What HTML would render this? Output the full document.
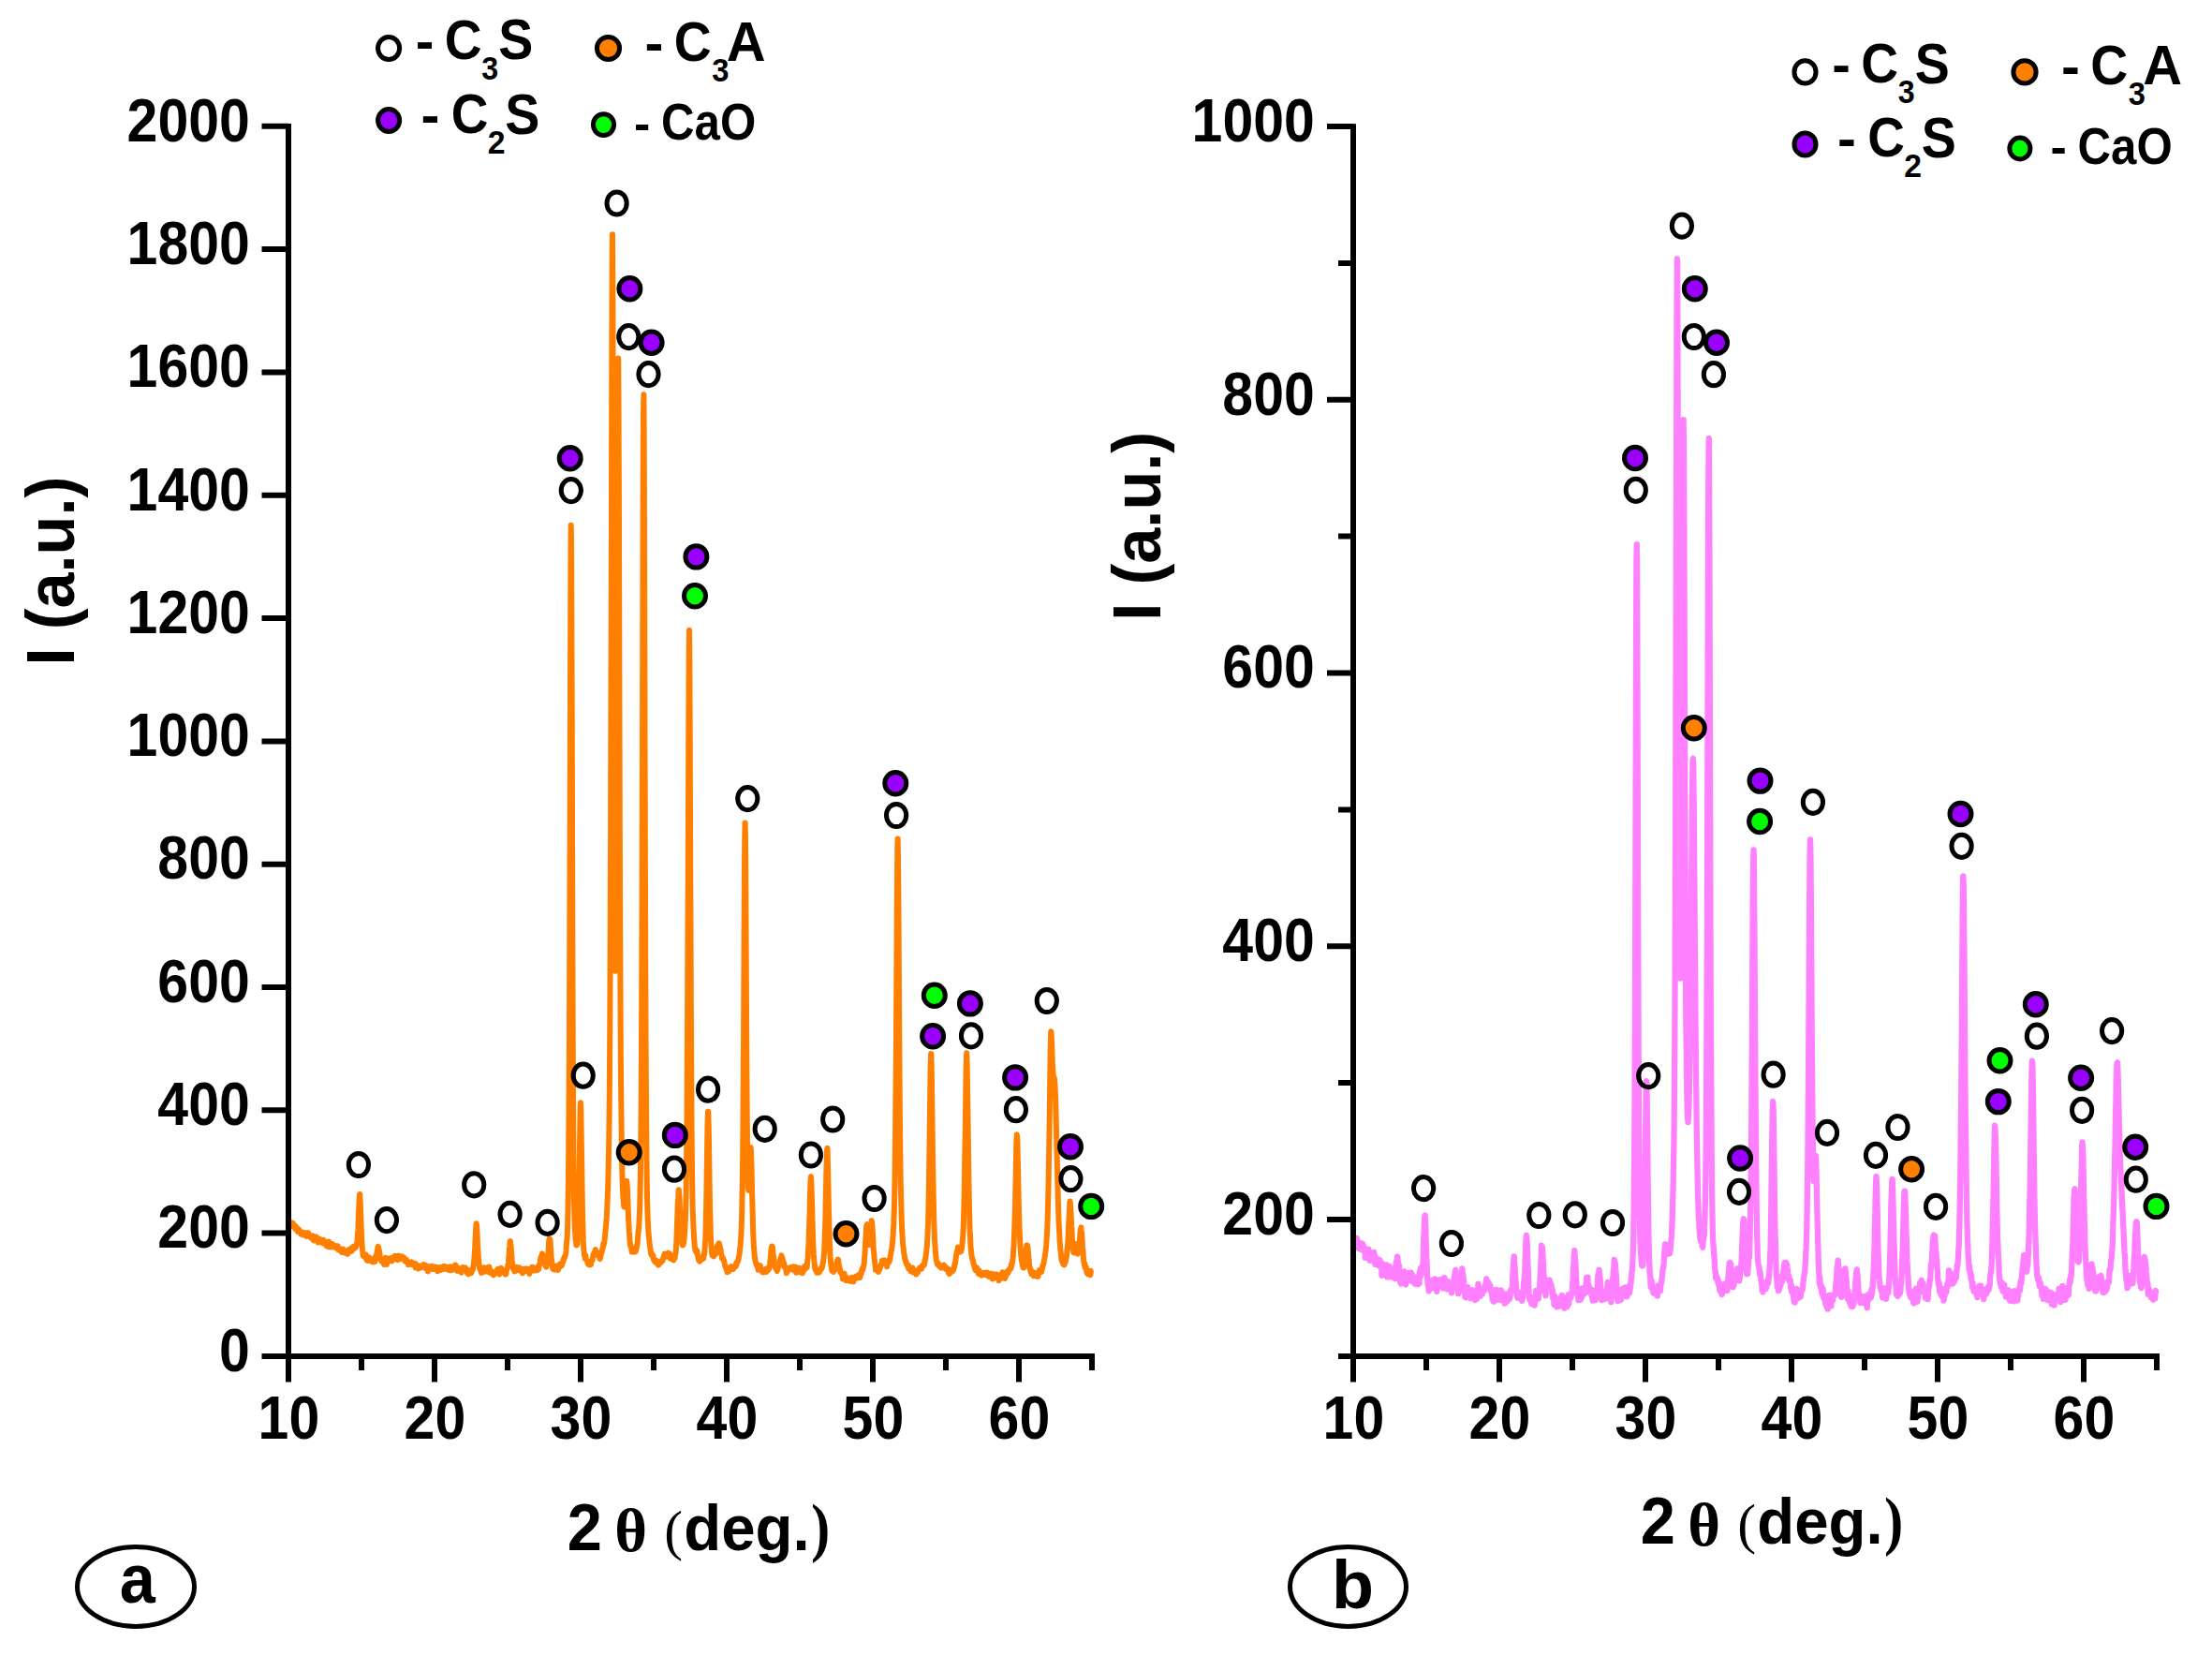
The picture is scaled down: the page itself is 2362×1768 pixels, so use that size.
<!DOCTYPE html>
<html lang="en"><head><meta charset="utf-8"><title>XRD patterns</title>
<style>html,body{margin:0;padding:0;background:#fff}body{width:2362px;height:1768px;overflow:hidden}svg{display:block}text{font-family:"Liberation Sans",sans-serif;font-weight:700;fill:#000}.ser{font-family:"Liberation Serif",serif}</style></head><body>
<svg width="2362" height="1768" viewBox="0 0 2362 1768">
<rect width="2362" height="1768" fill="#fff"/>
<polyline fill="none" stroke="#FF8000" stroke-width="6" stroke-linejoin="round" stroke-linecap="butt" points="307.9,1302.6 308.2,1302.7 308.5,1302.8 308.8,1304.0 309.1,1305.3 309.5,1305.3 309.8,1307.4 310.1,1306.6 310.4,1305.5 310.7,1307.5 311.0,1309.4 311.3,1306.7 311.6,1307.8 312.0,1307.7 312.3,1307.7 312.6,1305.6 312.9,1307.8 313.2,1307.0 313.5,1307.3 313.8,1308.4 314.1,1309.0 314.4,1309.4 314.8,1309.6 315.1,1312.0 315.4,1309.4 315.7,1309.1 316.0,1310.9 316.3,1311.8 316.6,1313.1 316.9,1310.7 317.3,1312.9 317.6,1313.6 317.9,1315.0 318.2,1312.6 318.5,1314.6 318.8,1313.8 319.1,1312.4 319.4,1313.5 319.7,1315.7 320.1,1313.8 320.4,1314.1 320.7,1315.9 321.0,1315.8 321.3,1317.5 321.6,1316.2 321.9,1315.9 322.2,1317.9 322.6,1316.2 322.9,1316.1 323.2,1318.5 323.5,1318.3 323.8,1315.7 324.1,1315.7 324.4,1316.6 324.7,1317.0 325.0,1317.9 325.4,1318.5 325.7,1317.4 326.0,1316.3 326.3,1316.5 326.6,1316.3 326.9,1317.9 327.2,1317.0 327.5,1320.0 327.9,1319.2 328.2,1317.0 328.5,1316.8 328.8,1317.0 329.1,1316.0 329.4,1318.1 329.7,1318.5 330.0,1319.8 330.3,1319.5 330.7,1320.2 331.0,1319.7 331.3,1319.2 331.6,1320.3 331.9,1320.4 332.2,1322.0 332.5,1320.0 332.8,1321.1 333.2,1320.4 333.5,1321.0 333.8,1319.3 334.1,1320.3 334.4,1322.9 334.7,1324.1 335.0,1323.6 335.3,1324.5 335.7,1323.2 336.0,1322.4 336.3,1322.5 336.6,1323.1 336.9,1321.8 337.2,1320.7 337.5,1320.3 337.8,1321.2 338.1,1322.8 338.5,1321.2 338.8,1324.5 339.1,1324.3 339.4,1324.6 339.7,1326.5 340.0,1326.1 340.3,1324.4 340.6,1325.8 341.0,1324.1 341.3,1324.6 341.6,1322.9 341.9,1326.1 342.2,1323.4 342.5,1325.3 342.8,1324.2 343.1,1324.8 343.4,1325.8 343.8,1326.2 344.1,1327.1 344.4,1327.3 344.7,1325.9 345.0,1326.3 345.3,1323.8 345.6,1325.7 345.9,1324.7 346.3,1324.7 346.6,1325.8 346.9,1326.9 347.2,1327.2 347.5,1327.8 347.8,1327.3 348.1,1328.8 348.4,1330.0 348.7,1328.0 349.1,1328.8 349.4,1330.5 349.7,1327.7 350.0,1328.9 350.3,1329.7 350.6,1327.1 350.9,1331.2 351.2,1325.6 351.6,1330.8 351.9,1330.5 352.2,1330.7 352.5,1329.7 352.8,1330.4 353.1,1329.4 353.4,1331.6 353.7,1329.1 354.0,1330.0 354.4,1330.7 354.7,1328.1 355.0,1328.9 355.3,1330.5 355.6,1329.0 355.9,1331.1 356.2,1330.7 356.5,1329.8 356.9,1331.4 357.2,1331.0 357.5,1330.1 357.8,1330.4 358.1,1330.6 358.4,1332.2 358.7,1330.0 359.0,1332.2 359.3,1331.6 359.7,1332.6 360.0,1332.1 360.3,1331.4 360.6,1330.2 360.9,1332.7 361.2,1333.3 361.5,1334.5 361.8,1334.0 362.2,1332.9 362.5,1332.9 362.8,1334.5 363.1,1333.4 363.4,1335.1 363.7,1334.6 364.0,1333.5 364.3,1334.3 364.6,1336.9 365.0,1335.4 365.3,1334.4 365.6,1336.4 365.9,1335.4 366.2,1335.0 366.5,1334.8 366.8,1333.6 367.1,1337.2 367.5,1336.4 367.8,1336.5 368.1,1336.6 368.4,1337.7 368.7,1337.1 369.0,1337.2 369.3,1335.6 369.6,1337.7 369.9,1337.4 370.3,1337.9 370.6,1337.9 370.9,1337.6 371.2,1338.9 371.5,1337.1 371.8,1336.7 372.1,1334.8 372.4,1334.1 372.8,1336.2 373.1,1336.0 373.4,1334.0 373.7,1336.4 374.0,1335.0 374.3,1335.5 374.6,1335.9 374.9,1333.5 375.2,1332.6 375.6,1335.8 375.9,1334.0 376.2,1332.7 376.5,1334.4 376.8,1333.1 377.1,1331.3 377.4,1330.9 377.7,1331.0 378.1,1332.0 378.4,1331.3 378.7,1331.3 379.0,1332.6 379.3,1332.3 379.6,1330.3 379.9,1331.4 380.2,1330.8 380.5,1329.1 380.9,1328.4 381.2,1326.7 381.5,1324.8 381.8,1320.0 382.1,1316.0 382.4,1312.2 382.7,1302.8 383.0,1293.6 383.4,1286.5 383.7,1279.6 384.0,1275.1 384.3,1274.9 384.6,1281.3 384.9,1287.7 385.2,1296.7 385.5,1305.7 385.9,1315.2 386.2,1323.9 386.5,1329.3 386.8,1332.0 387.1,1335.6 387.4,1337.7 387.7,1340.5 388.0,1338.7 388.3,1338.6 388.7,1341.7 389.0,1339.6 389.3,1341.6 389.6,1341.1 389.9,1340.6 390.2,1340.8 390.5,1342.7 390.8,1339.6 391.2,1344.3 391.5,1345.1 391.8,1344.0 392.1,1344.4 392.4,1344.0 392.7,1346.0 393.0,1342.3 393.3,1343.1 393.6,1342.6 394.0,1343.0 394.3,1342.5 394.6,1345.0 394.9,1344.1 395.2,1344.6 395.5,1344.7 395.8,1345.0 396.1,1345.5 396.5,1344.8 396.8,1344.0 397.1,1347.0 397.4,1345.8 397.7,1344.2 398.0,1347.0 398.3,1345.5 398.6,1347.5 398.9,1346.1 399.3,1345.9 399.6,1346.1 399.9,1345.3 400.2,1345.7 400.5,1347.0 400.8,1342.2 401.1,1344.8 401.4,1344.5 401.8,1341.1 402.1,1338.8 402.4,1339.8 402.7,1335.6 403.0,1336.4 403.3,1332.4 403.6,1330.7 403.9,1330.9 404.2,1332.2 404.6,1334.2 404.9,1335.6 405.2,1336.7 405.5,1339.3 405.8,1341.9 406.1,1343.1 406.4,1343.0 406.7,1344.7 407.1,1346.0 407.4,1345.9 407.7,1345.9 408.0,1345.4 408.3,1346.2 408.6,1347.2 408.9,1347.9 409.2,1347.2 409.5,1348.7 409.9,1346.8 410.2,1349.9 410.5,1346.9 410.8,1345.9 411.1,1344.6 411.4,1342.8 411.7,1346.6 412.0,1346.9 412.4,1349.4 412.7,1347.5 413.0,1350.0 413.3,1347.9 413.6,1347.6 413.9,1343.5 414.2,1346.7 414.5,1346.3 414.8,1345.9 415.2,1344.9 415.5,1343.6 415.8,1346.4 416.1,1345.9 416.4,1345.1 416.7,1345.1 417.0,1345.4 417.3,1344.6 417.7,1343.5 418.0,1343.2 418.3,1346.2 418.6,1346.3 418.9,1345.7 419.2,1345.3 419.5,1344.9 419.8,1344.9 420.1,1343.5 420.5,1342.1 420.8,1344.4 421.1,1342.5 421.4,1341.5 421.7,1340.8 422.0,1340.9 422.3,1342.9 422.6,1343.9 423.0,1343.6 423.3,1343.5 423.6,1342.8 423.9,1342.2 424.2,1344.7 424.5,1344.0 424.8,1345.1 425.1,1340.8 425.4,1340.7 425.8,1342.6 426.1,1342.5 426.4,1341.8 426.7,1342.1 427.0,1343.9 427.3,1344.0 427.6,1343.8 427.9,1344.2 428.3,1343.1 428.6,1341.4 428.9,1341.9 429.2,1341.4 429.5,1342.6 429.8,1343.8 430.1,1342.4 430.4,1343.3 430.7,1343.5 431.1,1342.4 431.4,1342.8 431.7,1345.2 432.0,1344.7 432.3,1346.2 432.6,1344.8 432.9,1346.1 433.2,1346.8 433.6,1345.9 433.9,1344.6 434.2,1345.4 434.5,1347.1 434.8,1346.5 435.1,1347.6 435.4,1347.5 435.7,1348.3 436.0,1350.2 436.4,1348.7 436.7,1348.0 437.0,1348.4 437.3,1347.5 437.6,1349.2 437.9,1348.2 438.2,1349.5 438.5,1348.5 438.9,1349.1 439.2,1347.9 439.5,1347.5 439.8,1349.0 440.1,1348.0 440.4,1350.3 440.7,1348.6 441.0,1350.2 441.4,1349.5 441.7,1349.4 442.0,1349.2 442.3,1349.7 442.6,1349.8 442.9,1350.5 443.2,1348.8 443.5,1350.1 443.8,1353.4 444.2,1350.5 444.5,1350.7 444.8,1350.7 445.1,1350.2 445.4,1353.2 445.7,1352.2 446.0,1352.4 446.3,1354.2 446.7,1354.5 447.0,1351.5 447.3,1352.8 447.6,1352.6 447.9,1352.8 448.2,1353.1 448.5,1352.3 448.8,1353.7 449.1,1352.0 449.5,1352.7 449.8,1353.2 450.1,1352.0 450.4,1351.1 450.7,1352.1 451.0,1352.8 451.3,1352.0 451.6,1350.8 452.0,1350.1 452.3,1351.7 452.6,1350.7 452.9,1351.1 453.2,1352.3 453.5,1350.3 453.8,1353.0 454.1,1353.8 454.4,1352.6 454.8,1351.0 455.1,1354.6 455.4,1352.3 455.7,1352.3 456.0,1352.3 456.3,1353.9 456.6,1355.6 456.9,1357.6 457.3,1355.3 457.6,1353.3 457.9,1353.2 458.2,1352.3 458.5,1353.4 458.8,1352.2 459.1,1352.7 459.4,1353.0 459.7,1352.8 460.1,1354.7 460.4,1352.5 460.7,1351.9 461.0,1351.8 461.3,1354.6 461.6,1354.7 461.9,1353.2 462.2,1353.5 462.6,1352.9 462.9,1355.2 463.2,1355.1 463.5,1353.5 463.8,1354.8 464.1,1352.5 464.4,1352.9 464.7,1352.9 465.0,1353.9 465.4,1353.1 465.7,1352.8 466.0,1352.8 466.3,1355.6 466.6,1354.6 466.9,1355.2 467.2,1357.2 467.5,1357.1 467.9,1356.5 468.2,1354.2 468.5,1355.0 468.8,1355.6 469.1,1353.6 469.4,1355.5 469.7,1352.9 470.0,1355.1 470.3,1354.0 470.7,1356.0 471.0,1354.2 471.3,1355.7 471.6,1353.5 471.9,1352.9 472.2,1353.1 472.5,1353.0 472.8,1353.0 473.2,1355.1 473.5,1355.1 473.8,1354.1 474.1,1351.7 474.4,1352.6 474.7,1352.8 475.0,1354.7 475.3,1354.0 475.6,1354.3 476.0,1353.0 476.3,1352.3 476.6,1353.1 476.9,1352.7 477.2,1353.7 477.5,1353.7 477.8,1353.0 478.1,1353.8 478.5,1355.6 478.8,1353.6 479.1,1352.8 479.4,1354.2 479.7,1353.7 480.0,1354.0 480.3,1355.2 480.6,1356.3 480.9,1352.3 481.3,1355.2 481.6,1355.2 481.9,1355.0 482.2,1354.0 482.5,1353.9 482.8,1356.1 483.1,1355.2 483.4,1355.3 483.8,1354.4 484.1,1354.8 484.4,1355.2 484.7,1354.8 485.0,1353.4 485.3,1352.3 485.6,1351.3 485.9,1350.7 486.2,1351.0 486.6,1350.7 486.9,1353.3 487.2,1353.1 487.5,1354.3 487.8,1356.3 488.1,1356.8 488.4,1353.4 488.7,1356.7 489.1,1355.2 489.4,1354.5 489.7,1355.0 490.0,1354.6 490.3,1353.8 490.6,1357.2 490.9,1354.7 491.2,1355.9 491.6,1357.2 491.9,1355.5 492.2,1355.9 492.5,1357.0 492.8,1358.7 493.1,1354.3 493.4,1355.2 493.7,1355.4 494.0,1354.9 494.4,1353.0 494.7,1354.3 495.0,1354.3 495.3,1355.0 495.6,1354.4 495.9,1354.2 496.2,1354.0 496.5,1355.0 496.9,1353.5 497.2,1354.8 497.5,1356.0 497.8,1355.2 498.1,1355.9 498.4,1354.8 498.7,1357.4 499.0,1359.2 499.3,1357.2 499.7,1357.7 500.0,1358.5 500.3,1360.4 500.6,1359.0 500.9,1358.3 501.2,1357.5 501.5,1358.2 501.8,1356.8 502.2,1358.2 502.5,1356.4 502.8,1358.4 503.1,1357.9 503.4,1359.0 503.7,1356.3 504.0,1357.1 504.3,1354.8 504.6,1356.2 505.0,1354.7 505.3,1353.6 505.6,1351.2 505.9,1350.8 506.2,1345.2 506.5,1343.1 506.8,1336.9 507.1,1333.0 507.5,1324.5 507.8,1318.3 508.1,1311.5 508.4,1309.2 508.7,1306.3 509.0,1308.4 509.3,1312.2 509.6,1317.7 509.9,1325.8 510.3,1333.3 510.6,1338.7 510.9,1343.6 511.2,1346.5 511.5,1349.7 511.8,1351.5 512.1,1353.4 512.4,1355.2 512.8,1354.7 513.1,1356.4 513.4,1356.8 513.7,1357.1 514.0,1359.1 514.3,1357.7 514.6,1358.2 514.9,1358.0 515.2,1356.8 515.6,1358.4 515.9,1353.8 516.2,1355.6 516.5,1354.6 516.8,1353.2 517.1,1353.8 517.4,1354.8 517.7,1355.9 518.1,1354.1 518.4,1354.1 518.7,1357.6 519.0,1357.4 519.3,1355.7 519.6,1353.4 519.9,1357.6 520.2,1355.6 520.5,1356.7 520.9,1355.2 521.2,1355.2 521.5,1355.6 521.8,1357.3 522.1,1356.2 522.4,1352.5 522.7,1355.4 523.0,1358.8 523.4,1356.8 523.7,1355.9 524.0,1359.1 524.3,1359.4 524.6,1359.5 524.9,1358.5 525.2,1358.5 525.5,1358.9 525.8,1359.1 526.2,1358.0 526.5,1359.5 526.8,1360.2 527.1,1361.4 527.4,1359.3 527.7,1358.9 528.0,1359.7 528.3,1358.9 528.7,1359.2 529.0,1358.2 529.3,1358.4 529.6,1359.2 529.9,1357.1 530.2,1356.8 530.5,1357.6 530.8,1356.8 531.1,1355.3 531.5,1355.4 531.8,1355.0 532.1,1358.2 532.4,1359.8 532.7,1360.2 533.0,1357.4 533.3,1360.5 533.6,1357.8 534.0,1358.4 534.3,1357.9 534.6,1354.8 534.9,1355.2 535.2,1353.9 535.5,1355.5 535.8,1355.1 536.1,1357.4 536.4,1356.9 536.8,1358.4 537.1,1357.3 537.4,1356.1 537.7,1356.8 538.0,1357.0 538.3,1359.0 538.6,1359.3 538.9,1358.5 539.3,1359.3 539.6,1360.7 539.9,1360.2 540.2,1360.3 540.5,1359.8 540.8,1356.8 541.1,1355.9 541.4,1353.8 541.8,1353.9 542.1,1352.3 542.4,1350.1 542.7,1350.2 543.0,1347.3 543.3,1342.8 543.6,1339.0 543.9,1333.9 544.2,1331.0 544.6,1325.4 544.9,1325.1 545.2,1327.9 545.5,1329.6 545.8,1333.5 546.1,1338.0 546.4,1341.4 546.7,1346.5 547.1,1349.0 547.4,1349.6 547.7,1351.6 548.0,1354.3 548.3,1355.2 548.6,1354.0 548.9,1353.5 549.2,1354.4 549.5,1357.4 549.9,1357.0 550.2,1357.1 550.5,1354.9 550.8,1353.0 551.1,1354.9 551.4,1353.8 551.7,1352.7 552.0,1354.3 552.4,1354.7 552.7,1355.5 553.0,1355.2 553.3,1353.6 553.6,1355.8 553.9,1356.1 554.2,1354.9 554.5,1354.8 554.8,1353.4 555.2,1354.0 555.5,1354.3 555.8,1354.8 556.1,1354.3 556.4,1355.3 556.7,1356.2 557.0,1355.3 557.3,1356.7 557.7,1357.5 558.0,1359.2 558.3,1358.2 558.6,1358.7 558.9,1356.7 559.2,1356.4 559.5,1354.8 559.8,1354.7 560.1,1357.3 560.5,1356.1 560.8,1356.6 561.1,1355.8 561.4,1355.1 561.7,1354.8 562.0,1355.4 562.3,1355.2 562.6,1354.6 563.0,1355.6 563.3,1355.7 563.6,1354.9 563.9,1356.0 564.2,1356.9 564.5,1358.3 564.8,1355.3 565.1,1356.5 565.4,1359.9 565.8,1356.6 566.1,1355.1 566.4,1354.9 566.7,1356.3 567.0,1354.6 567.3,1355.5 567.6,1353.6 567.9,1353.0 568.3,1356.5 568.6,1353.5 568.9,1353.3 569.2,1353.0 569.5,1353.8 569.8,1355.3 570.1,1356.6 570.4,1356.1 570.7,1354.0 571.1,1356.4 571.4,1356.1 571.7,1355.7 572.0,1353.7 572.3,1354.9 572.6,1354.8 572.9,1356.3 573.2,1354.2 573.6,1356.2 573.9,1356.2 574.2,1354.9 574.5,1355.4 574.8,1354.8 575.1,1355.0 575.4,1351.0 575.7,1351.7 576.0,1350.2 576.4,1349.8 576.7,1347.7 577.0,1344.4 577.3,1343.9 577.6,1341.7 577.9,1343.2 578.2,1340.8 578.5,1340.7 578.9,1338.4 579.2,1339.1 579.5,1342.2 579.8,1342.1 580.1,1342.6 580.4,1344.3 580.7,1344.7 581.0,1348.0 581.3,1348.2 581.7,1349.2 582.0,1349.2 582.3,1350.9 582.6,1350.6 582.9,1351.7 583.2,1352.6 583.5,1352.2 583.8,1350.5 584.2,1349.0 584.5,1344.8 584.8,1344.9 585.1,1340.7 585.4,1337.4 585.7,1332.4 586.0,1327.7 586.3,1324.1 586.6,1322.2 587.0,1322.8 587.3,1322.8 587.6,1324.8 587.9,1331.1 588.2,1333.6 588.5,1341.0 588.8,1343.7 589.1,1344.9 589.5,1349.0 589.8,1352.0 590.1,1350.9 590.4,1354.9 590.7,1353.5 591.0,1355.1 591.3,1354.6 591.6,1353.1 591.9,1355.5 592.3,1355.1 592.6,1355.1 592.9,1355.5 593.2,1354.7 593.5,1353.5 593.8,1353.2 594.1,1353.6 594.4,1353.0 594.8,1354.1 595.1,1351.3 595.4,1354.0 595.7,1353.0 596.0,1355.9 596.3,1353.1 596.6,1351.5 596.9,1353.2 597.3,1351.3 597.6,1350.5 597.9,1349.5 598.2,1352.3 598.5,1352.0 598.8,1350.3 599.1,1350.6 599.4,1351.6 599.7,1351.0 600.1,1350.8 600.4,1348.7 600.7,1347.5 601.0,1347.5 601.3,1347.4 601.6,1344.8 601.9,1343.7 602.2,1344.4 602.6,1342.0 602.9,1342.9 603.2,1341.4 603.5,1340.8 603.8,1340.0 604.1,1338.1 604.4,1335.5 604.7,1331.1 605.0,1327.6 605.4,1324.7 605.7,1320.0 606.0,1311.6 606.3,1300.7 606.6,1284.8 606.9,1262.3 607.2,1230.0 607.5,1181.6 607.9,1116.1 608.2,1031.7 608.5,930.1 608.8,814.4 609.1,700.2 609.4,606.4 609.7,560.7 610.0,575.9 610.3,649.1 610.7,754.5 611.0,871.1 611.3,981.7 611.6,1074.2 611.9,1148.9 612.2,1203.8 612.5,1242.2 612.8,1271.1 613.2,1288.9 613.5,1300.5 613.8,1310.2 614.1,1315.5 614.4,1319.8 614.7,1324.0 615.0,1325.3 615.3,1329.4 615.6,1327.0 616.0,1329.3 616.3,1328.8 616.6,1325.2 616.9,1321.8 617.2,1318.8 617.5,1309.9 617.8,1299.3 618.1,1284.6 618.5,1264.6 618.8,1242.3 619.1,1218.0 619.4,1198.1 619.7,1182.2 620.0,1177.3 620.3,1184.0 620.6,1200.5 620.9,1224.5 621.3,1248.5 621.6,1270.6 621.9,1288.2 622.2,1304.7 622.5,1315.9 622.8,1324.7 623.1,1329.8 623.4,1335.0 623.8,1337.7 624.1,1340.7 624.4,1340.8 624.7,1343.7 625.0,1342.9 625.3,1340.3 625.6,1342.7 625.9,1344.5 626.2,1345.3 626.6,1345.4 626.9,1345.9 627.2,1346.4 627.5,1348.7 627.8,1348.2 628.1,1347.7 628.4,1349.0 628.7,1350.1 629.1,1349.8 629.4,1348.1 629.7,1350.6 630.0,1349.1 630.3,1350.1 630.6,1349.0 630.9,1350.1 631.2,1348.6 631.5,1346.8 631.9,1346.6 632.2,1344.8 632.5,1345.9 632.8,1343.6 633.1,1342.0 633.4,1340.3 633.7,1338.8 634.0,1340.9 634.4,1338.3 634.7,1337.4 635.0,1336.5 635.3,1337.6 635.6,1337.0 635.9,1334.0 636.2,1336.6 636.5,1336.6 636.8,1337.5 637.2,1339.9 637.5,1338.9 637.8,1338.5 638.1,1337.2 638.4,1339.4 638.7,1339.6 639.0,1339.7 639.3,1340.1 639.7,1341.8 640.0,1341.1 640.3,1343.6 640.6,1344.0 640.9,1343.7 641.2,1341.0 641.5,1340.4 641.8,1338.8 642.1,1338.2 642.5,1336.3 642.8,1336.4 643.1,1333.9 643.4,1333.7 643.7,1331.5 644.0,1331.4 644.3,1327.8 644.6,1329.1 645.0,1327.9 645.3,1326.8 645.6,1323.8 645.9,1321.0 646.2,1317.9 646.5,1314.2 646.8,1310.6 647.1,1308.5 647.5,1303.4 647.8,1299.9 648.1,1293.7 648.4,1287.5 648.7,1280.5 649.0,1271.7 649.3,1262.1 649.6,1251.0 649.9,1234.8 650.3,1214.5 650.6,1188.4 650.9,1154.9 651.2,1109.2 651.5,1051.2 651.8,975.1 652.1,879.8 652.4,764.3 652.8,630.1 653.1,488.0 653.4,357.4 653.7,268.8 654.0,250.2 654.3,308.0 654.6,420.0 654.9,552.9 655.2,682.0 655.6,794.7 655.9,884.8 656.2,952.9 656.5,1000.5 656.8,1027.7 657.1,1036.7 657.4,1029.3 657.7,1002.3 658.1,957.2 658.4,893.5 658.7,809.6 659.0,706.4 659.3,593.2 659.6,483.8 659.9,404.7 660.2,382.4 660.5,427.5 660.9,524.7 661.2,644.1 661.5,767.4 661.8,876.6 662.1,970.1 662.4,1045.7 662.7,1104.7 663.0,1150.5 663.4,1184.8 663.7,1212.4 664.0,1231.3 664.3,1249.0 664.6,1259.4 664.9,1268.6 665.2,1274.5 665.5,1280.0 665.8,1283.6 666.2,1287.7 666.5,1288.6 666.8,1288.7 667.1,1286.4 667.4,1283.2 667.7,1280.6 668.0,1274.5 668.3,1268.7 668.7,1264.8 669.0,1260.9 669.3,1260.9 669.6,1264.6 669.9,1268.8 670.2,1276.5 670.5,1283.7 670.8,1293.7 671.1,1302.3 671.5,1308.3 671.8,1314.4 672.1,1318.3 672.4,1323.1 672.7,1327.8 673.0,1327.2 673.3,1330.6 673.6,1330.4 674.0,1331.7 674.3,1332.1 674.6,1336.5 674.9,1334.4 675.2,1335.7 675.5,1334.4 675.8,1335.9 676.1,1332.9 676.4,1334.8 676.8,1336.7 677.1,1334.5 677.4,1335.0 677.7,1335.8 678.0,1334.5 678.3,1335.5 678.6,1336.4 678.9,1335.4 679.3,1334.3 679.6,1332.1 679.9,1332.0 680.2,1329.3 680.5,1328.4 680.8,1325.1 681.1,1321.4 681.4,1316.4 681.7,1315.4 682.1,1311.4 682.4,1306.4 682.7,1300.2 683.0,1293.8 683.3,1285.5 683.6,1271.2 683.9,1253.2 684.2,1226.9 684.6,1189.8 684.9,1137.7 685.2,1068.8 685.5,980.7 685.8,875.8 686.1,755.3 686.4,630.3 686.7,517.7 687.0,440.8 687.4,421.3 687.7,465.2 688.0,560.0 688.3,679.6 688.6,804.0 688.9,919.2 689.2,1018.3 689.5,1098.6 689.9,1161.0 690.2,1208.5 690.5,1240.1 690.8,1264.6 691.1,1282.5 691.4,1293.1 691.7,1301.3 692.0,1307.5 692.3,1313.7 692.7,1318.4 693.0,1321.8 693.3,1323.4 693.6,1328.1 693.9,1329.2 694.2,1332.2 694.5,1333.9 694.8,1336.4 695.2,1338.6 695.5,1339.6 695.8,1338.1 696.1,1340.6 696.4,1339.5 696.7,1339.5 697.0,1341.1 697.3,1340.3 697.7,1342.9 698.0,1345.0 698.3,1345.0 698.6,1346.1 698.9,1345.8 699.2,1346.1 699.5,1345.1 699.8,1347.7 700.1,1345.9 700.5,1346.3 700.8,1347.4 701.1,1348.1 701.4,1345.9 701.7,1346.5 702.0,1347.3 702.3,1349.6 702.6,1349.6 703.0,1350.6 703.3,1350.5 703.6,1349.9 703.9,1349.4 704.2,1348.8 704.5,1347.9 704.8,1348.6 705.1,1348.1 705.4,1347.5 705.8,1347.3 706.1,1346.7 706.4,1347.2 706.7,1346.0 707.0,1346.0 707.3,1346.5 707.6,1345.5 707.9,1343.7 708.3,1343.8 708.6,1341.9 708.9,1341.4 709.2,1339.8 709.5,1341.6 709.8,1338.6 710.1,1340.1 710.4,1341.1 710.7,1340.1 711.1,1340.1 711.4,1341.8 711.7,1340.4 712.0,1339.5 712.3,1338.7 712.6,1338.6 712.9,1338.8 713.2,1338.2 713.6,1337.8 713.9,1338.6 714.2,1340.2 714.5,1340.1 714.8,1340.4 715.1,1338.4 715.4,1342.0 715.7,1343.6 716.0,1343.3 716.4,1341.8 716.7,1340.5 717.0,1341.2 717.3,1341.1 717.6,1343.1 717.9,1342.5 718.2,1343.8 718.5,1343.6 718.9,1342.2 719.2,1345.5 719.5,1344.3 719.8,1342.5 720.1,1341.8 720.4,1341.6 720.7,1343.4 721.0,1339.1 721.3,1338.7 721.7,1336.5 722.0,1330.7 722.3,1326.4 722.6,1318.5 722.9,1308.9 723.2,1301.5 723.5,1292.3 723.8,1283.9 724.2,1278.2 724.5,1271.7 724.8,1270.2 725.1,1273.4 725.4,1276.7 725.7,1283.5 726.0,1291.5 726.3,1299.1 726.6,1307.0 727.0,1312.5 727.3,1318.5 727.6,1322.5 727.9,1325.3 728.2,1327.3 728.5,1328.6 728.8,1329.4 729.1,1328.4 729.5,1329.2 729.8,1327.9 730.1,1326.2 730.4,1324.1 730.7,1321.1 731.0,1315.8 731.3,1311.9 731.6,1305.9 731.9,1299.2 732.3,1287.3 732.6,1275.0 732.9,1255.9 733.2,1229.7 733.5,1192.9 733.8,1144.4 734.1,1085.1 734.4,1010.8 734.8,927.5 735.1,838.4 735.4,755.9 735.7,695.6 736.0,672.7 736.3,696.7 736.6,756.0 736.9,840.0 737.2,927.9 737.6,1012.6 737.9,1086.6 738.2,1147.6 738.5,1195.9 738.8,1230.7 739.1,1258.0 739.4,1277.1 739.7,1291.2 740.1,1300.7 740.4,1308.8 740.7,1314.6 741.0,1320.0 741.3,1324.4 741.6,1327.3 741.9,1332.0 742.2,1331.9 742.5,1334.6 742.9,1335.9 743.2,1335.7 743.5,1337.1 743.8,1334.8 744.1,1334.9 744.4,1336.1 744.7,1338.1 745.0,1340.2 745.4,1342.3 745.7,1343.5 746.0,1345.2 746.3,1344.6 746.6,1344.2 746.9,1344.9 747.2,1346.8 747.5,1342.2 747.8,1343.7 748.2,1344.8 748.5,1345.0 748.8,1343.6 749.1,1343.9 749.4,1344.7 749.7,1344.4 750.0,1342.2 750.3,1343.9 750.7,1343.2 751.0,1343.8 751.3,1342.6 751.6,1340.5 751.9,1338.2 752.2,1338.3 752.5,1335.6 752.8,1329.2 753.2,1322.6 753.5,1315.8 753.8,1301.9 754.1,1288.9 754.4,1271.0 754.7,1252.0 755.0,1231.6 755.3,1212.4 755.6,1195.3 756.0,1186.7 756.3,1186.7 756.6,1197.4 756.9,1213.5 757.2,1234.1 757.5,1254.2 757.8,1273.7 758.1,1290.8 758.5,1304.6 758.8,1315.7 759.1,1324.8 759.4,1329.7 759.7,1331.2 760.0,1337.1 760.3,1339.3 760.6,1340.3 760.9,1339.3 761.3,1339.5 761.6,1339.6 761.9,1341.3 762.2,1341.4 762.5,1340.2 762.8,1339.7 763.1,1339.7 763.4,1339.7 763.8,1338.9 764.1,1338.9 764.4,1338.2 764.7,1334.2 765.0,1334.2 765.3,1334.7 765.6,1332.0 765.9,1330.6 766.2,1329.8 766.6,1328.8 766.9,1330.4 767.2,1329.3 767.5,1328.0 767.8,1327.3 768.1,1329.8 768.4,1329.1 768.7,1330.1 769.1,1333.5 769.4,1334.7 769.7,1334.3 770.0,1338.7 770.3,1339.7 770.6,1340.2 770.9,1343.2 771.2,1341.9 771.5,1343.2 771.9,1343.3 772.2,1343.3 772.5,1345.6 772.8,1344.9 773.1,1345.8 773.4,1347.1 773.7,1348.8 774.0,1350.2 774.4,1352.3 774.7,1352.3 775.0,1352.3 775.3,1354.3 775.6,1355.1 775.9,1355.4 776.2,1357.3 776.5,1358.2 776.8,1355.7 777.2,1356.9 777.5,1357.8 777.8,1356.4 778.1,1356.5 778.4,1354.7 778.7,1357.0 779.0,1356.1 779.3,1354.3 779.7,1354.0 780.0,1354.7 780.3,1353.7 780.6,1352.0 780.9,1352.4 781.2,1353.8 781.5,1355.1 781.8,1354.7 782.1,1354.1 782.5,1354.0 782.8,1352.6 783.1,1355.0 783.4,1352.5 783.7,1353.0 784.0,1352.4 784.3,1352.0 784.6,1351.7 785.0,1351.2 785.3,1352.2 785.6,1352.2 785.9,1351.6 786.2,1348.4 786.5,1350.5 786.8,1347.7 787.1,1347.8 787.4,1347.1 787.8,1346.4 788.1,1346.3 788.4,1344.4 788.7,1343.8 789.0,1341.4 789.3,1340.5 789.6,1338.8 789.9,1335.1 790.3,1331.8 790.6,1329.3 790.9,1324.6 791.2,1321.8 791.5,1315.8 791.8,1307.7 792.1,1298.0 792.4,1283.4 792.7,1266.1 793.1,1241.0 793.4,1208.2 793.7,1166.6 794.0,1117.6 794.3,1061.1 794.6,1000.0 794.9,942.2 795.2,898.6 795.6,878.6 795.9,889.2 796.2,926.4 796.5,979.4 796.8,1039.3 797.1,1096.3 797.4,1146.8 797.7,1188.1 798.0,1220.0 798.4,1243.4 798.7,1259.2 799.0,1268.5 799.3,1271.0 799.6,1267.9 799.9,1263.2 800.2,1255.4 800.5,1246.4 800.9,1237.7 801.2,1230.3 801.5,1225.1 801.8,1226.2 802.1,1232.1 802.4,1242.4 802.7,1255.6 803.0,1270.5 803.4,1285.5 803.7,1295.8 804.0,1308.9 804.3,1318.1 804.6,1324.3 804.9,1330.0 805.2,1333.9 805.5,1337.9 805.8,1342.1 806.2,1343.1 806.5,1346.0 806.8,1347.1 807.1,1348.0 807.4,1349.6 807.7,1349.8 808.0,1350.5 808.3,1350.8 808.7,1352.3 809.0,1353.0 809.3,1352.6 809.6,1355.8 809.9,1352.4 810.2,1352.7 810.5,1353.1 810.8,1350.9 811.1,1352.0 811.5,1351.0 811.8,1351.4 812.1,1353.0 812.4,1354.1 812.7,1355.7 813.0,1355.8 813.3,1356.7 813.6,1357.4 814.0,1356.5 814.3,1358.2 814.6,1356.6 814.9,1355.8 815.2,1358.5 815.5,1358.1 815.8,1356.3 816.1,1356.6 816.4,1357.6 816.8,1355.2 817.1,1356.9 817.4,1355.2 817.7,1355.6 818.0,1354.9 818.3,1358.0 818.6,1356.3 818.9,1354.9 819.3,1355.1 819.6,1354.2 819.9,1355.8 820.2,1356.3 820.5,1355.5 820.8,1352.9 821.1,1354.4 821.4,1354.3 821.7,1352.9 822.1,1350.7 822.4,1345.9 822.7,1343.9 823.0,1339.8 823.3,1336.2 823.6,1334.0 823.9,1332.0 824.2,1330.5 824.6,1331.4 824.9,1331.7 825.2,1334.0 825.5,1338.7 825.8,1340.3 826.1,1341.8 826.4,1345.2 826.7,1347.9 827.0,1350.9 827.4,1351.1 827.7,1352.5 828.0,1351.7 828.3,1353.2 828.6,1354.7 828.9,1355.4 829.2,1355.6 829.5,1355.8 829.9,1357.1 830.2,1355.3 830.5,1353.5 830.8,1351.5 831.1,1353.5 831.4,1350.5 831.7,1351.2 832.0,1350.7 832.3,1347.9 832.7,1347.8 833.0,1345.7 833.3,1345.0 833.6,1343.2 833.9,1342.8 834.2,1341.3 834.5,1340.3 834.8,1342.5 835.2,1342.6 835.5,1343.5 835.8,1347.4 836.1,1346.1 836.4,1348.4 836.7,1349.2 837.0,1349.4 837.3,1348.7 837.6,1352.5 838.0,1351.7 838.3,1353.2 838.6,1353.5 838.9,1354.5 839.2,1354.0 839.5,1356.1 839.8,1359.3 840.1,1357.5 840.5,1357.8 840.8,1355.6 841.1,1356.6 841.4,1355.0 841.7,1356.3 842.0,1355.1 842.3,1354.9 842.6,1354.4 842.9,1354.1 843.3,1353.3 843.6,1354.8 843.9,1353.0 844.2,1353.1 844.5,1354.3 844.8,1353.7 845.1,1353.4 845.4,1354.3 845.8,1354.4 846.1,1354.8 846.4,1353.5 846.7,1355.1 847.0,1352.2 847.3,1356.0 847.6,1354.0 847.9,1353.8 848.2,1355.7 848.6,1355.8 848.9,1356.1 849.2,1356.6 849.5,1352.4 849.8,1355.7 850.1,1358.8 850.4,1356.3 850.7,1356.5 851.1,1356.1 851.4,1355.3 851.7,1356.5 852.0,1358.3 852.3,1357.3 852.6,1355.9 852.9,1356.5 853.2,1355.7 853.6,1353.7 853.9,1354.3 854.2,1356.8 854.5,1357.8 854.8,1355.3 855.1,1358.2 855.4,1357.4 855.7,1356.9 856.0,1355.2 856.4,1357.4 856.7,1356.7 857.0,1359.3 857.3,1356.5 857.6,1355.9 857.9,1353.7 858.2,1356.9 858.5,1354.5 858.9,1353.5 859.2,1351.7 859.5,1354.9 859.8,1354.8 860.1,1353.1 860.4,1353.1 860.7,1353.3 861.0,1353.9 861.3,1352.2 861.7,1352.9 862.0,1348.7 862.3,1345.4 862.6,1343.6 862.9,1337.2 863.2,1332.1 863.5,1326.9 863.8,1317.4 864.2,1306.8 864.5,1296.4 864.8,1282.4 865.1,1272.1 865.4,1263.7 865.7,1257.9 866.0,1256.1 866.3,1262.1 866.6,1271.7 867.0,1281.5 867.3,1294.7 867.6,1304.7 867.9,1313.9 868.2,1326.1 868.5,1332.3 868.8,1338.7 869.1,1342.9 869.5,1346.8 869.8,1350.1 870.1,1353.9 870.4,1352.4 870.7,1353.0 871.0,1356.0 871.3,1355.8 871.6,1356.6 871.9,1356.9 872.3,1358.8 872.6,1358.3 872.9,1358.6 873.2,1356.5 873.5,1358.3 873.8,1356.8 874.1,1357.9 874.4,1358.7 874.8,1356.3 875.1,1358.2 875.4,1355.9 875.7,1356.0 876.0,1356.5 876.3,1354.6 876.6,1354.5 876.9,1354.3 877.2,1353.1 877.6,1354.4 877.9,1352.2 878.2,1351.5 878.5,1349.3 878.8,1348.2 879.1,1347.3 879.4,1344.7 879.7,1341.0 880.1,1337.6 880.4,1329.4 880.7,1322.7 881.0,1313.1 881.3,1304.2 881.6,1290.2 881.9,1275.2 882.2,1258.6 882.5,1245.3 882.9,1232.8 883.2,1226.7 883.5,1225.8 883.8,1235.1 884.1,1247.7 884.4,1263.6 884.7,1279.9 885.0,1294.2 885.4,1307.4 885.7,1319.6 886.0,1328.7 886.3,1335.1 886.6,1341.4 886.9,1345.0 887.2,1349.5 887.5,1351.9 887.8,1352.7 888.2,1356.2 888.5,1354.1 888.8,1354.7 889.1,1356.8 889.4,1354.6 889.7,1354.8 890.0,1357.9 890.3,1356.6 890.7,1354.4 891.0,1356.7 891.3,1355.1 891.6,1355.1 891.9,1354.2 892.2,1353.2 892.5,1351.4 892.8,1351.0 893.1,1349.3 893.5,1348.9 893.8,1346.3 894.1,1347.0 894.4,1345.6 894.7,1344.6 895.0,1344.9 895.3,1347.1 895.6,1349.9 896.0,1351.9 896.3,1352.1 896.6,1354.4 896.9,1354.3 897.2,1358.0 897.5,1357.1 897.8,1359.1 898.1,1359.4 898.4,1359.1 898.8,1360.7 899.1,1359.4 899.4,1360.8 899.7,1362.5 900.0,1365.4 900.3,1362.1 900.6,1361.2 900.9,1360.1 901.3,1362.3 901.6,1359.7 901.9,1361.5 902.2,1363.9 902.5,1363.0 902.8,1365.9 903.1,1366.9 903.4,1365.7 903.7,1366.1 904.1,1364.6 904.4,1364.2 904.7,1366.6 905.0,1366.9 905.3,1366.7 905.6,1366.2 905.9,1365.9 906.2,1366.3 906.6,1365.3 906.9,1366.1 907.2,1367.6 907.5,1367.0 907.8,1366.4 908.1,1365.8 908.4,1367.9 908.7,1366.8 909.1,1363.9 909.4,1365.1 909.7,1365.2 910.0,1365.3 910.3,1363.7 910.6,1365.1 910.9,1365.2 911.2,1368.5 911.5,1365.5 911.9,1364.9 912.2,1364.6 912.5,1366.3 912.8,1365.7 913.1,1363.4 913.4,1363.3 913.7,1362.8 914.0,1363.3 914.4,1362.8 914.7,1362.5 915.0,1363.3 915.3,1362.1 915.6,1364.2 915.9,1364.0 916.2,1362.7 916.5,1362.2 916.8,1364.2 917.2,1360.8 917.5,1361.0 917.8,1363.8 918.1,1364.0 918.4,1363.8 918.7,1361.3 919.0,1359.0 919.3,1359.7 919.7,1359.9 920.0,1357.5 920.3,1355.8 920.6,1354.5 920.9,1355.0 921.2,1356.1 921.5,1354.9 921.8,1353.0 922.1,1351.7 922.5,1350.3 922.8,1348.8 923.1,1342.9 923.4,1340.3 923.7,1333.9 924.0,1328.2 924.3,1323.2 924.6,1318.0 925.0,1311.4 925.3,1308.8 925.6,1307.9 925.9,1307.2 926.2,1310.0 926.5,1314.2 926.8,1318.3 927.1,1323.2 927.4,1326.9 927.8,1327.9 928.1,1328.9 928.4,1328.4 928.7,1326.3 929.0,1323.0 929.3,1320.1 929.6,1312.5 929.9,1309.8 930.3,1306.1 930.6,1303.3 930.9,1303.7 931.2,1305.9 931.5,1310.5 931.8,1314.3 932.1,1319.9 932.4,1326.0 932.7,1332.9 933.1,1336.6 933.4,1339.7 933.7,1343.7 934.0,1346.7 934.3,1349.3 934.6,1351.4 934.9,1355.7 935.2,1352.8 935.6,1355.0 935.9,1354.5 936.2,1354.1 936.5,1356.1 936.8,1355.4 937.1,1356.1 937.4,1356.6 937.7,1354.8 938.0,1357.9 938.4,1355.9 938.7,1355.9 939.0,1354.9 939.3,1355.3 939.6,1354.0 939.9,1353.5 940.2,1352.2 940.5,1350.3 940.9,1350.7 941.2,1350.1 941.5,1350.2 941.8,1346.0 942.1,1348.5 942.4,1348.9 942.7,1346.2 943.0,1347.6 943.3,1348.5 943.7,1347.1 944.0,1345.2 944.3,1346.0 944.6,1345.6 944.9,1346.5 945.2,1346.7 945.5,1347.7 945.8,1347.6 946.2,1348.2 946.5,1350.5 946.8,1350.4 947.1,1352.3 947.4,1349.6 947.7,1347.3 948.0,1348.3 948.3,1348.3 948.6,1347.7 949.0,1347.7 949.3,1345.3 949.6,1347.1 949.9,1344.4 950.2,1345.0 950.5,1342.8 950.8,1340.6 951.1,1340.2 951.5,1335.7 951.8,1335.3 952.1,1334.3 952.4,1331.2 952.7,1329.3 953.0,1326.2 953.3,1322.4 953.6,1320.4 953.9,1313.4 954.3,1306.7 954.6,1297.6 954.9,1287.7 955.2,1274.7 955.5,1257.2 955.8,1234.1 956.1,1206.2 956.4,1173.4 956.8,1132.8 957.1,1086.9 957.4,1036.0 957.7,984.2 958.0,939.1 958.3,906.4 958.6,895.5 958.9,910.6 959.3,945.3 959.6,993.3 959.9,1044.7 960.2,1094.7 960.5,1140.2 960.8,1180.5 961.1,1213.8 961.4,1239.5 961.7,1260.8 962.1,1277.6 962.4,1288.7 962.7,1300.3 963.0,1308.7 963.3,1316.1 963.6,1319.7 963.9,1325.6 964.2,1329.9 964.6,1331.6 964.9,1335.4 965.2,1338.3 965.5,1339.0 965.8,1340.5 966.1,1343.8 966.4,1343.8 966.7,1344.7 967.0,1346.7 967.4,1346.6 967.7,1349.0 968.0,1349.4 968.3,1350.2 968.6,1350.4 968.9,1350.3 969.2,1350.1 969.5,1352.3 969.9,1350.6 970.2,1354.5 970.5,1353.3 970.8,1352.6 971.1,1354.3 971.4,1355.4 971.7,1355.1 972.0,1356.1 972.3,1357.1 972.7,1356.1 973.0,1357.2 973.3,1355.9 973.6,1357.0 973.9,1358.0 974.2,1358.1 974.5,1353.5 974.8,1355.8 975.2,1355.1 975.5,1356.1 975.8,1357.0 976.1,1356.6 976.4,1356.3 976.7,1356.4 977.0,1357.1 977.3,1359.3 977.6,1357.8 978.0,1358.4 978.3,1360.6 978.6,1359.5 978.9,1357.7 979.2,1358.8 979.5,1358.4 979.8,1357.8 980.1,1358.5 980.5,1357.0 980.8,1355.1 981.1,1355.1 981.4,1355.1 981.7,1354.3 982.0,1353.7 982.3,1354.3 982.6,1354.2 982.9,1354.6 983.3,1354.7 983.6,1353.5 983.9,1352.2 984.2,1354.7 984.5,1352.3 984.8,1351.9 985.1,1350.8 985.4,1350.7 985.8,1350.1 986.1,1350.2 986.4,1349.8 986.7,1350.9 987.0,1348.5 987.3,1349.0 987.6,1344.8 987.9,1344.0 988.2,1344.6 988.6,1340.8 988.9,1338.1 989.2,1336.4 989.5,1333.0 989.8,1331.3 990.1,1325.2 990.4,1320.2 990.7,1312.6 991.1,1304.3 991.4,1292.7 991.7,1276.9 992.0,1260.5 992.3,1239.1 992.6,1216.0 992.9,1192.4 993.2,1169.5 993.5,1147.2 993.9,1131.3 994.2,1124.9 994.5,1129.5 994.8,1145.0 995.1,1164.6 995.4,1190.6 995.7,1213.4 996.0,1235.2 996.4,1257.9 996.7,1274.8 997.0,1289.7 997.3,1303.6 997.6,1311.6 997.9,1321.3 998.2,1326.8 998.5,1330.2 998.8,1335.9 999.2,1339.1 999.5,1343.2 999.8,1345.5 1000.1,1345.8 1000.4,1347.4 1000.7,1349.2 1001.0,1348.7 1001.3,1350.1 1001.7,1349.2 1002.0,1350.2 1002.3,1349.1 1002.6,1350.6 1002.9,1351.7 1003.2,1350.9 1003.5,1350.7 1003.8,1352.0 1004.1,1352.7 1004.5,1351.7 1004.8,1352.4 1005.1,1353.7 1005.4,1353.5 1005.7,1351.8 1006.0,1351.8 1006.3,1352.6 1006.6,1351.9 1007.0,1352.7 1007.3,1352.0 1007.6,1351.4 1007.9,1350.6 1008.2,1351.1 1008.5,1352.2 1008.8,1353.2 1009.1,1354.1 1009.5,1354.6 1009.8,1353.8 1010.1,1354.5 1010.4,1355.2 1010.7,1353.5 1011.0,1353.7 1011.3,1353.9 1011.6,1353.9 1011.9,1355.1 1012.3,1356.7 1012.6,1356.6 1012.9,1358.9 1013.2,1358.9 1013.5,1357.8 1013.8,1360.0 1014.1,1357.7 1014.4,1359.0 1014.8,1356.7 1015.1,1355.9 1015.4,1356.0 1015.7,1355.9 1016.0,1355.6 1016.3,1357.9 1016.6,1356.9 1016.9,1357.0 1017.2,1357.1 1017.6,1355.1 1017.9,1356.6 1018.2,1354.9 1018.5,1354.2 1018.8,1351.9 1019.1,1353.0 1019.4,1350.5 1019.7,1348.1 1020.1,1349.1 1020.4,1346.0 1020.7,1342.9 1021.0,1340.8 1021.3,1339.1 1021.6,1338.1 1021.9,1335.5 1022.2,1335.2 1022.5,1334.5 1022.9,1331.5 1023.2,1332.3 1023.5,1331.5 1023.8,1333.2 1024.1,1335.4 1024.4,1334.8 1024.7,1333.8 1025.0,1335.2 1025.4,1336.6 1025.7,1336.1 1026.0,1336.1 1026.3,1336.0 1026.6,1332.5 1026.9,1333.6 1027.2,1330.9 1027.5,1328.6 1027.8,1324.3 1028.2,1320.1 1028.5,1314.4 1028.8,1308.6 1029.1,1298.8 1029.4,1287.4 1029.7,1273.7 1030.0,1255.5 1030.3,1234.6 1030.7,1212.2 1031.0,1189.6 1031.3,1164.5 1031.6,1144.4 1031.9,1130.0 1032.2,1124.3 1032.5,1130.2 1032.8,1145.7 1033.1,1166.3 1033.5,1190.3 1033.8,1215.2 1034.1,1238.4 1034.4,1257.5 1034.7,1275.1 1035.0,1289.6 1035.3,1301.4 1035.6,1313.2 1036.0,1318.6 1036.3,1326.3 1036.6,1332.6 1036.9,1334.5 1037.2,1338.4 1037.5,1340.9 1037.8,1341.7 1038.1,1343.7 1038.4,1343.9 1038.8,1345.9 1039.1,1346.2 1039.4,1347.9 1039.7,1349.8 1040.0,1350.0 1040.3,1351.9 1040.6,1353.3 1040.9,1353.2 1041.3,1355.5 1041.6,1356.0 1041.9,1353.7 1042.2,1356.0 1042.5,1354.6 1042.8,1354.4 1043.1,1353.4 1043.4,1355.1 1043.7,1356.1 1044.1,1357.7 1044.4,1359.3 1044.7,1357.0 1045.0,1359.9 1045.3,1356.8 1045.6,1356.4 1045.9,1358.3 1046.2,1358.7 1046.6,1358.9 1046.9,1358.3 1047.2,1359.7 1047.5,1359.4 1047.8,1361.7 1048.1,1359.9 1048.4,1360.8 1048.7,1359.0 1049.0,1360.8 1049.4,1359.3 1049.7,1360.9 1050.0,1361.0 1050.3,1359.0 1050.6,1359.6 1050.9,1359.4 1051.2,1358.8 1051.5,1359.1 1051.9,1359.5 1052.2,1358.8 1052.5,1360.3 1052.8,1361.2 1053.1,1358.4 1053.4,1359.0 1053.7,1360.1 1054.0,1359.1 1054.3,1358.6 1054.7,1360.2 1055.0,1360.0 1055.3,1360.9 1055.6,1360.3 1055.9,1363.0 1056.2,1362.8 1056.5,1361.3 1056.8,1361.6 1057.2,1363.0 1057.5,1360.7 1057.8,1361.6 1058.1,1361.3 1058.4,1361.1 1058.7,1361.5 1059.0,1359.6 1059.3,1360.9 1059.6,1360.9 1060.0,1365.6 1060.3,1364.9 1060.6,1364.7 1060.9,1362.7 1061.2,1363.8 1061.5,1363.5 1061.8,1362.8 1062.1,1362.7 1062.5,1360.4 1062.8,1361.5 1063.1,1361.9 1063.4,1360.9 1063.7,1361.3 1064.0,1361.6 1064.3,1362.2 1064.6,1360.6 1065.0,1364.7 1065.3,1364.7 1065.6,1363.3 1065.9,1363.8 1066.2,1365.3 1066.5,1367.3 1066.8,1366.0 1067.1,1364.3 1067.4,1365.5 1067.8,1363.0 1068.1,1364.7 1068.4,1365.3 1068.7,1363.2 1069.0,1362.1 1069.3,1361.5 1069.6,1360.6 1069.9,1359.9 1070.3,1358.8 1070.6,1358.4 1070.9,1359.2 1071.2,1361.9 1071.5,1362.5 1071.8,1363.0 1072.1,1362.7 1072.4,1362.0 1072.7,1363.7 1073.1,1365.0 1073.4,1363.6 1073.7,1363.5 1074.0,1361.5 1074.3,1361.8 1074.6,1361.2 1074.9,1359.9 1075.2,1359.5 1075.6,1360.0 1075.9,1357.0 1076.2,1359.1 1076.5,1358.6 1076.8,1357.7 1077.1,1357.6 1077.4,1355.9 1077.7,1355.2 1078.0,1355.7 1078.4,1354.0 1078.7,1355.2 1079.0,1353.8 1079.3,1354.3 1079.6,1354.0 1079.9,1349.9 1080.2,1351.4 1080.5,1348.8 1080.9,1348.5 1081.2,1345.6 1081.5,1343.7 1081.8,1341.7 1082.1,1335.3 1082.4,1332.4 1082.7,1325.8 1083.0,1317.2 1083.3,1309.9 1083.7,1299.2 1084.0,1286.3 1084.3,1271.2 1084.6,1258.5 1084.9,1241.1 1085.2,1225.9 1085.5,1216.1 1085.8,1211.2 1086.2,1213.8 1086.5,1223.0 1086.8,1234.3 1087.1,1250.2 1087.4,1265.1 1087.7,1279.6 1088.0,1292.8 1088.3,1302.9 1088.6,1313.0 1089.0,1321.1 1089.3,1326.6 1089.6,1331.4 1089.9,1335.2 1090.2,1341.1 1090.5,1341.7 1090.8,1345.2 1091.1,1347.0 1091.5,1348.1 1091.8,1351.3 1092.1,1351.7 1092.4,1351.4 1092.7,1353.6 1093.0,1353.2 1093.3,1353.4 1093.6,1350.3 1093.9,1348.5 1094.3,1349.7 1094.6,1344.2 1094.9,1342.6 1095.2,1340.8 1095.5,1336.6 1095.8,1333.9 1096.1,1331.6 1096.4,1329.5 1096.8,1329.4 1097.1,1329.5 1097.4,1331.3 1097.7,1334.5 1098.0,1338.1 1098.3,1341.4 1098.6,1343.9 1098.9,1348.0 1099.2,1351.3 1099.6,1354.0 1099.9,1355.2 1100.2,1353.9 1100.5,1357.9 1100.8,1356.3 1101.1,1358.4 1101.4,1360.2 1101.7,1357.3 1102.1,1359.9 1102.4,1360.6 1102.7,1360.0 1103.0,1360.4 1103.3,1361.3 1103.6,1360.5 1103.9,1362.4 1104.2,1361.8 1104.5,1358.8 1104.9,1359.9 1105.2,1360.2 1105.5,1360.2 1105.8,1360.3 1106.1,1362.1 1106.4,1362.1 1106.7,1361.0 1107.0,1362.4 1107.4,1362.8 1107.7,1361.4 1108.0,1361.8 1108.3,1362.6 1108.6,1362.7 1108.9,1359.3 1109.2,1358.7 1109.5,1358.5 1109.8,1356.1 1110.2,1356.9 1110.5,1357.2 1110.8,1357.6 1111.1,1355.3 1111.4,1355.2 1111.7,1357.3 1112.0,1358.0 1112.3,1355.8 1112.7,1353.9 1113.0,1354.9 1113.3,1352.9 1113.6,1351.4 1113.9,1349.9 1114.2,1349.5 1114.5,1349.3 1114.8,1346.5 1115.2,1344.6 1115.5,1342.6 1115.8,1341.1 1116.1,1338.1 1116.4,1337.1 1116.7,1334.0 1117.0,1331.2 1117.3,1328.3 1117.6,1323.6 1118.0,1317.8 1118.3,1310.1 1118.6,1303.1 1118.9,1292.0 1119.2,1280.2 1119.5,1266.9 1119.8,1251.8 1120.1,1232.4 1120.5,1210.0 1120.8,1186.7 1121.1,1163.8 1121.4,1140.2 1121.7,1121.8 1122.0,1107.1 1122.3,1101.2 1122.6,1103.3 1122.9,1109.9 1123.3,1118.6 1123.6,1128.5 1123.9,1136.8 1124.2,1141.8 1124.5,1146.1 1124.8,1147.9 1125.1,1150.3 1125.4,1151.1 1125.8,1151.1 1126.1,1154.3 1126.4,1157.6 1126.7,1164.4 1127.0,1171.7 1127.3,1180.1 1127.6,1192.0 1127.9,1203.9 1128.2,1216.3 1128.6,1231.1 1128.9,1243.9 1129.2,1257.2 1129.5,1268.3 1129.8,1279.6 1130.1,1289.6 1130.4,1301.0 1130.7,1307.6 1131.1,1313.4 1131.4,1320.8 1131.7,1326.3 1132.0,1328.4 1132.3,1334.1 1132.6,1336.3 1132.9,1338.6 1133.2,1341.8 1133.5,1345.0 1133.9,1345.8 1134.2,1347.1 1134.5,1345.8 1134.8,1347.0 1135.1,1349.5 1135.4,1346.9 1135.7,1347.6 1136.0,1347.6 1136.4,1350.5 1136.7,1349.2 1137.0,1348.7 1137.3,1348.2 1137.6,1347.9 1137.9,1346.2 1138.2,1345.4 1138.5,1342.6 1138.8,1342.1 1139.2,1338.2 1139.5,1334.5 1139.8,1332.8 1140.1,1329.1 1140.4,1324.5 1140.7,1318.5 1141.0,1310.6 1141.3,1305.1 1141.7,1296.8 1142.0,1291.9 1142.3,1284.7 1142.6,1282.5 1142.9,1285.0 1143.2,1289.0 1143.5,1294.3 1143.8,1299.9 1144.1,1308.4 1144.5,1313.5 1144.8,1320.4 1145.1,1325.3 1145.4,1329.5 1145.7,1334.0 1146.0,1334.5 1146.3,1336.9 1146.6,1337.5 1147.0,1334.5 1147.3,1333.0 1147.6,1332.5 1147.9,1330.2 1148.2,1330.3 1148.5,1327.9 1148.8,1330.1 1149.1,1331.4 1149.4,1333.2 1149.8,1333.4 1150.1,1337.0 1150.4,1337.8 1150.7,1338.7 1151.0,1338.3 1151.3,1337.9 1151.6,1335.8 1151.9,1335.2 1152.3,1329.9 1152.6,1327.2 1152.9,1325.1 1153.2,1319.1 1153.5,1317.0 1153.8,1312.2 1154.1,1312.1 1154.4,1310.4 1154.7,1313.3 1155.1,1316.3 1155.4,1320.6 1155.7,1325.5 1156.0,1332.2 1156.3,1333.9 1156.6,1338.2 1156.9,1343.1 1157.2,1346.3 1157.6,1348.7 1157.9,1350.5 1158.2,1349.0 1158.5,1353.3 1158.8,1353.6 1159.1,1352.7 1159.4,1353.6 1159.7,1352.4 1160.0,1355.8 1160.4,1358.9 1160.7,1356.2 1161.0,1358.1 1161.3,1359.7 1161.6,1360.2 1161.9,1360.0 1162.2,1356.5 1162.5,1358.5 1162.9,1358.7 1163.2,1356.7 1163.5,1358.3 1163.8,1360.7 1164.1,1361.2 1164.4,1360.6 1164.7,1356.8 1165.0,1359.2 1165.4,1359.2"/>
<polyline fill="none" stroke="#FF80FF" stroke-width="6.3" stroke-linejoin="round" stroke-linecap="butt" points="1447.8,1324.5 1448.1,1327.4 1448.4,1328.2 1448.7,1322.0 1449.0,1323.0 1449.4,1325.8 1449.7,1328.3 1450.0,1331.3 1450.3,1327.8 1450.6,1327.6 1450.9,1333.0 1451.2,1326.7 1451.5,1328.2 1451.9,1328.6 1452.2,1331.1 1452.5,1331.7 1452.8,1328.1 1453.1,1333.9 1453.4,1327.6 1453.7,1327.4 1454.0,1329.5 1454.3,1329.7 1454.7,1328.5 1455.0,1327.9 1455.3,1330.3 1455.6,1331.8 1455.9,1334.6 1456.2,1330.8 1456.5,1335.5 1456.8,1334.1 1457.2,1336.0 1457.5,1335.2 1457.8,1342.8 1458.1,1339.3 1458.4,1340.1 1458.7,1336.8 1459.0,1339.4 1459.3,1340.0 1459.6,1336.2 1460.0,1340.2 1460.3,1334.0 1460.6,1337.7 1460.9,1343.0 1461.2,1333.7 1461.5,1336.6 1461.8,1335.1 1462.1,1341.0 1462.5,1339.4 1462.8,1345.9 1463.1,1343.7 1463.4,1339.8 1463.7,1340.6 1464.0,1339.8 1464.3,1340.7 1464.6,1343.7 1464.9,1339.4 1465.3,1339.9 1465.6,1339.8 1465.9,1341.7 1466.2,1337.8 1466.5,1344.3 1466.8,1345.0 1467.1,1336.9 1467.4,1347.4 1467.8,1339.8 1468.1,1344.5 1468.4,1349.8 1468.7,1342.0 1469.0,1342.5 1469.3,1345.4 1469.6,1348.2 1469.9,1347.9 1470.2,1347.4 1470.6,1348.4 1470.9,1347.8 1471.2,1346.3 1471.5,1344.3 1471.8,1348.0 1472.1,1347.1 1472.4,1345.8 1472.7,1351.7 1473.1,1344.9 1473.4,1347.5 1473.7,1345.7 1474.0,1349.8 1474.3,1351.4 1474.6,1352.3 1474.9,1353.8 1475.2,1350.5 1475.6,1361.8 1475.9,1354.6 1476.2,1348.8 1476.5,1350.0 1476.8,1360.4 1477.1,1357.9 1477.4,1351.4 1477.7,1353.7 1478.0,1356.6 1478.4,1353.4 1478.7,1352.1 1479.0,1352.2 1479.3,1355.0 1479.6,1354.2 1479.9,1350.7 1480.2,1354.6 1480.5,1350.3 1480.9,1355.1 1481.2,1363.4 1481.5,1359.9 1481.8,1359.9 1482.1,1359.8 1482.4,1362.5 1482.7,1362.3 1483.0,1354.5 1483.3,1359.4 1483.7,1352.2 1484.0,1355.6 1484.3,1363.2 1484.6,1358.7 1484.9,1356.1 1485.2,1359.1 1485.5,1358.9 1485.8,1363.3 1486.2,1358.7 1486.5,1359.2 1486.8,1357.4 1487.1,1356.6 1487.4,1357.8 1487.7,1354.5 1488.0,1358.6 1488.3,1354.2 1488.6,1360.2 1489.0,1360.8 1489.3,1359.7 1489.6,1365.0 1489.9,1358.8 1490.2,1354.4 1490.5,1353.4 1490.8,1347.2 1491.1,1347.5 1491.5,1346.4 1491.8,1346.5 1492.1,1341.6 1492.4,1342.4 1492.7,1348.9 1493.0,1346.6 1493.3,1353.1 1493.6,1356.2 1493.9,1351.0 1494.3,1360.3 1494.6,1362.9 1494.9,1365.1 1495.2,1368.9 1495.5,1368.2 1495.8,1367.6 1496.1,1370.5 1496.4,1366.7 1496.8,1368.8 1497.1,1361.2 1497.4,1368.8 1497.7,1364.2 1498.0,1365.0 1498.3,1363.9 1498.6,1362.1 1498.9,1361.8 1499.2,1361.0 1499.6,1357.3 1499.9,1362.8 1500.2,1367.8 1500.5,1363.4 1500.8,1363.3 1501.1,1371.5 1501.4,1368.3 1501.7,1367.9 1502.1,1364.0 1502.4,1364.4 1502.7,1366.3 1503.0,1364.8 1503.3,1364.4 1503.6,1360.6 1503.9,1361.3 1504.2,1359.1 1504.5,1365.8 1504.9,1362.5 1505.2,1361.5 1505.5,1362.4 1505.8,1361.7 1506.1,1364.7 1506.4,1362.4 1506.7,1358.6 1507.0,1367.6 1507.4,1360.8 1507.7,1364.4 1508.0,1360.5 1508.3,1361.6 1508.6,1364.9 1508.9,1365.2 1509.2,1362.7 1509.5,1365.3 1509.8,1365.1 1510.2,1369.6 1510.5,1363.9 1510.8,1369.1 1511.1,1370.7 1511.4,1364.2 1511.7,1368.1 1512.0,1366.9 1512.3,1364.3 1512.7,1365.1 1513.0,1366.5 1513.3,1365.3 1513.6,1364.8 1513.9,1367.5 1514.2,1367.7 1514.5,1371.2 1514.8,1370.7 1515.1,1370.0 1515.5,1370.3 1515.8,1359.0 1516.1,1360.0 1516.4,1355.9 1516.7,1363.2 1517.0,1353.9 1517.3,1357.4 1517.6,1360.3 1518.0,1355.0 1518.3,1358.3 1518.6,1357.9 1518.9,1359.6 1519.2,1351.4 1519.5,1348.3 1519.8,1340.7 1520.1,1329.5 1520.4,1319.4 1520.8,1311.0 1521.1,1302.1 1521.4,1298.4 1521.7,1297.5 1522.0,1304.1 1522.3,1311.3 1522.6,1322.5 1522.9,1331.8 1523.3,1345.0 1523.6,1349.6 1523.9,1358.2 1524.2,1364.4 1524.5,1368.8 1524.8,1372.8 1525.1,1370.3 1525.4,1373.7 1525.7,1378.3 1526.1,1375.9 1526.4,1370.1 1526.7,1369.0 1527.0,1376.2 1527.3,1373.4 1527.6,1372.4 1527.9,1372.2 1528.2,1375.3 1528.6,1375.0 1528.9,1367.9 1529.2,1369.8 1529.5,1370.4 1529.8,1366.6 1530.1,1371.6 1530.4,1369.8 1530.7,1370.9 1531.1,1375.2 1531.4,1370.3 1531.7,1369.7 1532.0,1367.9 1532.3,1365.5 1532.6,1372.1 1532.9,1370.9 1533.2,1372.3 1533.5,1372.3 1533.9,1373.0 1534.2,1378.9 1534.5,1372.6 1534.8,1371.1 1535.1,1371.7 1535.4,1372.3 1535.7,1368.8 1536.0,1366.8 1536.4,1369.5 1536.7,1371.1 1537.0,1370.8 1537.3,1367.8 1537.6,1367.9 1537.9,1367.8 1538.2,1369.6 1538.5,1365.8 1538.8,1366.5 1539.2,1369.2 1539.5,1367.3 1539.8,1366.1 1540.1,1365.9 1540.4,1367.7 1540.7,1375.4 1541.0,1368.3 1541.3,1374.8 1541.7,1371.5 1542.0,1374.6 1542.3,1373.4 1542.6,1364.2 1542.9,1366.3 1543.2,1367.6 1543.5,1371.8 1543.8,1367.7 1544.1,1367.7 1544.5,1374.0 1544.8,1375.3 1545.1,1376.3 1545.4,1370.4 1545.7,1371.8 1546.0,1373.0 1546.3,1370.2 1546.6,1368.3 1547.0,1370.9 1547.3,1375.6 1547.6,1376.9 1547.9,1372.8 1548.2,1370.1 1548.5,1371.2 1548.8,1371.4 1549.1,1372.8 1549.4,1374.6 1549.8,1376.0 1550.1,1380.3 1550.4,1376.7 1550.7,1375.8 1551.0,1373.6 1551.3,1376.1 1551.6,1373.1 1551.9,1371.8 1552.3,1372.2 1552.6,1368.7 1552.9,1364.1 1553.2,1362.4 1553.5,1359.5 1553.8,1358.5 1554.1,1356.1 1554.4,1355.9 1554.7,1358.2 1555.1,1365.5 1555.4,1368.1 1555.7,1368.8 1556.0,1372.1 1556.3,1371.1 1556.6,1373.4 1556.9,1376.2 1557.2,1381.2 1557.6,1376.5 1557.9,1378.8 1558.2,1378.9 1558.5,1377.5 1558.8,1375.8 1559.1,1371.5 1559.4,1374.0 1559.7,1368.4 1560.0,1370.0 1560.4,1364.1 1560.7,1363.1 1561.0,1361.4 1561.3,1354.3 1561.6,1355.9 1561.9,1361.1 1562.2,1363.7 1562.5,1361.8 1562.9,1368.3 1563.2,1370.5 1563.5,1373.2 1563.8,1379.4 1564.1,1377.4 1564.4,1384.7 1564.7,1380.2 1565.0,1379.4 1565.3,1385.3 1565.7,1383.8 1566.0,1383.3 1566.3,1385.2 1566.6,1382.7 1566.9,1381.4 1567.2,1374.2 1567.5,1377.2 1567.8,1382.0 1568.2,1378.6 1568.5,1379.8 1568.8,1377.7 1569.1,1382.8 1569.4,1384.7 1569.7,1379.9 1570.0,1384.9 1570.3,1384.1 1570.6,1386.3 1571.0,1384.5 1571.3,1382.5 1571.6,1384.5 1571.9,1382.4 1572.2,1377.1 1572.5,1381.0 1572.8,1379.9 1573.1,1382.1 1573.5,1379.6 1573.8,1381.9 1574.1,1384.8 1574.4,1382.7 1574.7,1386.9 1575.0,1387.9 1575.3,1387.8 1575.6,1383.9 1575.9,1381.8 1576.3,1384.4 1576.6,1380.5 1576.9,1387.0 1577.2,1378.9 1577.5,1377.9 1577.8,1382.0 1578.1,1376.9 1578.4,1370.8 1578.8,1378.0 1579.1,1375.9 1579.4,1376.8 1579.7,1374.8 1580.0,1380.2 1580.3,1381.8 1580.6,1383.8 1580.9,1380.5 1581.3,1382.7 1581.6,1381.3 1581.9,1379.6 1582.2,1381.8 1582.5,1377.5 1582.8,1381.7 1583.1,1378.4 1583.4,1379.2 1583.7,1376.8 1584.1,1378.7 1584.4,1374.8 1584.7,1374.8 1585.0,1375.5 1585.3,1377.1 1585.6,1377.2 1585.9,1374.7 1586.2,1371.4 1586.6,1373.9 1586.9,1367.7 1587.2,1365.3 1587.5,1368.4 1587.8,1369.9 1588.1,1374.0 1588.4,1371.4 1588.7,1373.2 1589.0,1369.0 1589.4,1370.1 1589.7,1369.7 1590.0,1371.3 1590.3,1372.9 1590.6,1373.0 1590.9,1373.5 1591.2,1372.2 1591.5,1373.9 1591.9,1378.4 1592.2,1376.3 1592.5,1376.8 1592.8,1381.0 1593.1,1380.5 1593.4,1385.3 1593.7,1387.6 1594.0,1385.6 1594.3,1382.4 1594.7,1380.9 1595.0,1389.7 1595.3,1385.2 1595.6,1381.1 1595.9,1385.1 1596.2,1379.7 1596.5,1381.5 1596.8,1381.5 1597.2,1381.1 1597.5,1377.0 1597.8,1387.5 1598.1,1378.3 1598.4,1381.9 1598.7,1382.5 1599.0,1379.1 1599.3,1382.1 1599.6,1383.3 1600.0,1387.7 1600.3,1383.7 1600.6,1385.9 1600.9,1382.4 1601.2,1386.7 1601.5,1380.3 1601.8,1386.2 1602.1,1383.3 1602.5,1382.8 1602.8,1377.5 1603.1,1379.7 1603.4,1383.5 1603.7,1388.4 1604.0,1379.9 1604.3,1382.0 1604.6,1386.9 1604.9,1387.5 1605.3,1386.2 1605.6,1386.6 1605.9,1386.8 1606.2,1389.0 1606.5,1388.6 1606.8,1391.7 1607.1,1387.1 1607.4,1388.4 1607.8,1386.4 1608.1,1387.7 1608.4,1381.5 1608.7,1389.0 1609.0,1387.2 1609.3,1389.6 1609.6,1385.9 1609.9,1388.9 1610.2,1388.0 1610.6,1385.3 1610.9,1381.7 1611.2,1381.2 1611.5,1387.0 1611.8,1387.1 1612.1,1385.6 1612.4,1385.1 1612.7,1382.5 1613.1,1377.2 1613.4,1376.9 1613.7,1379.0 1614.0,1378.5 1614.3,1375.9 1614.6,1376.7 1614.9,1372.4 1615.2,1366.5 1615.5,1355.8 1615.9,1352.5 1616.2,1347.7 1616.5,1343.6 1616.8,1341.3 1617.1,1349.1 1617.4,1350.5 1617.7,1354.4 1618.0,1362.6 1618.4,1366.7 1618.7,1370.9 1619.0,1374.7 1619.3,1379.4 1619.6,1382.9 1619.9,1383.0 1620.2,1384.0 1620.5,1385.8 1620.8,1379.3 1621.2,1385.7 1621.5,1383.9 1621.8,1384.6 1622.1,1382.8 1622.4,1382.6 1622.7,1380.1 1623.0,1380.8 1623.3,1381.0 1623.7,1381.1 1624.0,1380.0 1624.3,1386.8 1624.6,1381.3 1624.9,1388.0 1625.2,1388.8 1625.5,1384.1 1625.8,1385.0 1626.1,1385.4 1626.5,1381.5 1626.8,1375.2 1627.1,1368.6 1627.4,1373.5 1627.7,1365.9 1628.0,1361.7 1628.3,1357.1 1628.6,1344.8 1629.0,1336.1 1629.3,1325.3 1629.6,1322.6 1629.9,1318.9 1630.2,1321.2 1630.5,1325.4 1630.8,1327.8 1631.1,1338.5 1631.5,1352.1 1631.8,1356.4 1632.1,1367.0 1632.4,1376.3 1632.7,1380.8 1633.0,1383.3 1633.3,1387.5 1633.6,1386.0 1633.9,1385.8 1634.3,1386.3 1634.6,1388.9 1634.9,1389.2 1635.2,1391.8 1635.5,1387.7 1635.8,1389.2 1636.1,1388.7 1636.4,1392.0 1636.8,1389.5 1637.1,1391.7 1637.4,1391.7 1637.7,1388.3 1638.0,1384.7 1638.3,1388.7 1638.6,1393.6 1638.9,1387.9 1639.2,1389.3 1639.6,1385.2 1639.9,1385.9 1640.2,1378.0 1640.5,1379.1 1640.8,1380.2 1641.1,1384.8 1641.4,1386.1 1641.7,1385.0 1642.1,1384.2 1642.4,1382.4 1642.7,1386.6 1643.0,1381.3 1643.3,1381.3 1643.6,1379.6 1643.9,1376.4 1644.2,1370.1 1644.5,1366.8 1644.9,1358.7 1645.2,1355.1 1645.5,1346.2 1645.8,1340.2 1646.1,1329.7 1646.4,1331.3 1646.7,1330.9 1647.0,1332.9 1647.4,1337.6 1647.7,1346.2 1648.0,1350.7 1648.3,1360.7 1648.6,1361.6 1648.9,1368.9 1649.2,1375.1 1649.5,1373.7 1649.8,1379.2 1650.2,1381.3 1650.5,1383.2 1650.8,1378.5 1651.1,1376.4 1651.4,1376.3 1651.7,1370.8 1652.0,1375.3 1652.3,1368.2 1652.7,1374.7 1653.0,1374.1 1653.3,1366.7 1653.6,1370.4 1653.9,1368.6 1654.2,1370.4 1654.5,1366.4 1654.8,1368.0 1655.1,1368.2 1655.5,1372.3 1655.8,1376.6 1656.1,1375.1 1656.4,1371.4 1656.7,1374.1 1657.0,1375.0 1657.3,1380.8 1657.6,1379.0 1658.0,1377.5 1658.3,1386.3 1658.6,1386.6 1658.9,1386.4 1659.2,1386.0 1659.5,1392.8 1659.8,1390.5 1660.1,1383.3 1660.4,1385.8 1660.8,1387.2 1661.1,1387.1 1661.4,1389.4 1661.7,1386.4 1662.0,1387.9 1662.3,1395.3 1662.6,1390.8 1662.9,1390.5 1663.3,1391.2 1663.6,1387.2 1663.9,1391.7 1664.2,1395.0 1664.5,1391.7 1664.8,1394.6 1665.1,1392.7 1665.4,1394.5 1665.7,1390.7 1666.1,1388.6 1666.4,1385.5 1666.7,1389.4 1667.0,1386.3 1667.3,1386.2 1667.6,1384.4 1667.9,1382.9 1668.2,1384.6 1668.6,1389.1 1668.9,1387.5 1669.2,1384.6 1669.5,1390.0 1669.8,1393.6 1670.1,1391.8 1670.4,1396.7 1670.7,1393.3 1671.0,1394.6 1671.4,1388.2 1671.7,1393.7 1672.0,1387.3 1672.3,1389.4 1672.6,1389.4 1672.9,1388.3 1673.2,1388.2 1673.5,1395.1 1673.9,1392.6 1674.2,1393.8 1674.5,1389.4 1674.8,1382.1 1675.1,1392.1 1675.4,1386.4 1675.7,1386.3 1676.0,1386.8 1676.3,1386.0 1676.7,1382.7 1677.0,1385.2 1677.3,1385.7 1677.6,1381.3 1677.9,1380.8 1678.2,1382.4 1678.5,1378.9 1678.8,1377.9 1679.2,1370.6 1679.5,1367.8 1679.8,1360.1 1680.1,1352.1 1680.4,1352.1 1680.7,1343.0 1681.0,1337.9 1681.3,1335.1 1681.6,1339.5 1682.0,1346.3 1682.3,1347.2 1682.6,1355.8 1682.9,1357.5 1683.2,1366.2 1683.5,1373.0 1683.8,1380.0 1684.1,1381.7 1684.5,1379.5 1684.8,1382.2 1685.1,1383.1 1685.4,1388.1 1685.7,1385.4 1686.0,1386.3 1686.3,1385.5 1686.6,1388.1 1687.0,1385.3 1687.3,1383.0 1687.6,1382.4 1687.9,1387.6 1688.2,1386.0 1688.5,1385.1 1688.8,1381.7 1689.1,1384.4 1689.4,1375.4 1689.8,1381.7 1690.1,1376.7 1690.4,1377.2 1690.7,1378.7 1691.0,1381.5 1691.3,1379.9 1691.6,1381.6 1691.9,1380.0 1692.3,1377.7 1692.6,1376.7 1692.9,1376.7 1693.2,1376.2 1693.5,1371.3 1693.8,1368.9 1694.1,1364.1 1694.4,1368.5 1694.7,1370.5 1695.1,1367.3 1695.4,1363.7 1695.7,1370.7 1696.0,1371.3 1696.3,1374.2 1696.6,1372.2 1696.9,1376.7 1697.2,1379.6 1697.6,1379.2 1697.9,1378.0 1698.2,1375.7 1698.5,1375.8 1698.8,1377.3 1699.1,1381.8 1699.4,1377.2 1699.7,1382.3 1700.0,1383.4 1700.4,1386.1 1700.7,1388.7 1701.0,1383.8 1701.3,1386.7 1701.6,1377.9 1701.9,1380.8 1702.2,1383.0 1702.5,1384.1 1702.9,1381.7 1703.2,1383.7 1703.5,1387.3 1703.8,1388.0 1704.1,1380.6 1704.4,1380.2 1704.7,1381.3 1705.0,1379.9 1705.3,1376.5 1705.7,1376.8 1706.0,1368.3 1706.3,1362.7 1706.6,1360.7 1706.9,1359.0 1707.2,1358.5 1707.5,1355.6 1707.8,1358.6 1708.2,1362.6 1708.5,1363.5 1708.8,1368.0 1709.1,1376.0 1709.4,1373.9 1709.7,1381.9 1710.0,1382.1 1710.3,1388.0 1710.6,1386.2 1711.0,1383.8 1711.3,1387.5 1711.6,1381.3 1711.9,1387.3 1712.2,1384.6 1712.5,1380.7 1712.8,1381.6 1713.1,1379.4 1713.5,1379.6 1713.8,1382.7 1714.1,1382.8 1714.4,1384.7 1714.7,1385.6 1715.0,1386.6 1715.3,1382.8 1715.6,1379.3 1715.9,1376.7 1716.3,1375.5 1716.6,1370.4 1716.9,1368.8 1717.2,1373.0 1717.5,1371.5 1717.8,1376.3 1718.1,1373.9 1718.4,1378.0 1718.8,1379.0 1719.1,1381.3 1719.4,1383.3 1719.7,1385.3 1720.0,1383.1 1720.3,1390.1 1720.6,1385.0 1720.9,1380.3 1721.2,1377.2 1721.6,1377.7 1721.9,1372.6 1722.2,1364.4 1722.5,1364.6 1722.8,1356.1 1723.1,1354.6 1723.4,1354.2 1723.7,1344.9 1724.1,1347.9 1724.4,1349.2 1724.7,1348.4 1725.0,1350.7 1725.3,1356.2 1725.6,1359.4 1725.9,1365.2 1726.2,1376.6 1726.5,1380.5 1726.9,1385.6 1727.2,1386.3 1727.5,1389.0 1727.8,1386.8 1728.1,1387.5 1728.4,1386.2 1728.7,1384.2 1729.0,1383.0 1729.4,1377.2 1729.7,1384.4 1730.0,1385.7 1730.3,1388.2 1730.6,1387.1 1730.9,1387.6 1731.2,1386.1 1731.5,1381.6 1731.8,1383.7 1732.2,1379.8 1732.5,1381.8 1732.8,1381.2 1733.1,1375.5 1733.4,1381.4 1733.7,1380.6 1734.0,1380.4 1734.3,1379.5 1734.7,1379.7 1735.0,1376.7 1735.3,1374.5 1735.6,1374.5 1735.9,1376.6 1736.2,1377.6 1736.5,1376.5 1736.8,1384.4 1737.2,1380.6 1737.5,1384.2 1737.8,1383.2 1738.1,1376.7 1738.4,1377.2 1738.7,1374.0 1739.0,1373.6 1739.3,1375.3 1739.6,1377.2 1740.0,1380.3 1740.3,1374.5 1740.6,1377.3 1740.9,1373.7 1741.2,1369.8 1741.5,1371.0 1741.8,1364.2 1742.1,1364.2 1742.5,1357.6 1742.8,1355.4 1743.1,1355.7 1743.4,1346.0 1743.7,1339.8 1744.0,1332.1 1744.3,1318.0 1744.6,1295.4 1744.9,1262.7 1745.3,1220.5 1745.6,1163.9 1745.9,1087.8 1746.2,992.3 1746.5,887.0 1746.8,773.6 1747.1,672.4 1747.4,599.7 1747.8,581.2 1748.1,616.7 1748.4,702.4 1748.7,809.5 1749.0,918.8 1749.3,1023.4 1749.6,1112.1 1749.9,1184.2 1750.2,1231.8 1750.6,1271.1 1750.9,1298.7 1751.2,1316.0 1751.5,1325.8 1751.8,1332.8 1752.1,1340.5 1752.4,1341.0 1752.7,1347.2 1753.1,1350.6 1753.4,1350.4 1753.7,1345.2 1754.0,1351.5 1754.3,1350.2 1754.6,1346.6 1754.9,1339.4 1755.2,1326.8 1755.5,1321.9 1755.9,1305.6 1756.2,1286.3 1756.5,1261.0 1756.8,1234.3 1757.1,1206.0 1757.4,1183.7 1757.7,1163.0 1758.0,1154.2 1758.4,1156.8 1758.7,1175.4 1759.0,1200.1 1759.3,1227.9 1759.6,1257.7 1759.9,1283.8 1760.2,1306.1 1760.5,1323.8 1760.8,1334.9 1761.2,1348.0 1761.5,1356.5 1761.8,1360.5 1762.1,1360.5 1762.4,1367.4 1762.7,1374.0 1763.0,1366.2 1763.3,1369.4 1763.7,1369.5 1764.0,1368.1 1764.3,1375.6 1764.6,1376.9 1764.9,1378.8 1765.2,1378.5 1765.5,1380.6 1765.8,1376.1 1766.1,1377.4 1766.5,1379.1 1766.8,1380.0 1767.1,1380.7 1767.4,1378.2 1767.7,1379.9 1768.0,1381.0 1768.3,1381.5 1768.6,1378.8 1769.0,1377.5 1769.3,1381.6 1769.6,1377.6 1769.9,1383.6 1770.2,1377.1 1770.5,1372.6 1770.8,1375.4 1771.1,1377.1 1771.4,1377.1 1771.8,1376.0 1772.1,1374.7 1772.4,1374.7 1772.7,1375.5 1773.0,1378.1 1773.3,1370.3 1773.6,1369.5 1773.9,1370.3 1774.3,1367.1 1774.6,1364.5 1774.9,1362.6 1775.2,1359.0 1775.5,1355.4 1775.8,1354.3 1776.1,1353.2 1776.4,1351.5 1776.7,1347.9 1777.1,1336.5 1777.4,1339.9 1777.7,1333.5 1778.0,1328.3 1778.3,1331.5 1778.6,1330.0 1778.9,1331.0 1779.2,1328.6 1779.6,1331.7 1779.9,1334.5 1780.2,1335.1 1780.5,1337.6 1780.8,1338.9 1781.1,1338.6 1781.4,1338.9 1781.7,1338.8 1782.0,1335.9 1782.4,1336.2 1782.7,1337.0 1783.0,1338.2 1783.3,1336.1 1783.6,1334.1 1783.9,1332.2 1784.2,1326.2 1784.5,1323.9 1784.9,1319.7 1785.2,1314.0 1785.5,1304.6 1785.8,1296.1 1786.1,1285.0 1786.4,1274.6 1786.7,1261.4 1787.0,1242.1 1787.4,1221.6 1787.7,1193.9 1788.0,1157.5 1788.3,1105.9 1788.6,1042.0 1788.9,958.6 1789.2,854.5 1789.5,733.6 1789.8,597.8 1790.2,462.7 1790.5,344.4 1790.8,276.4 1791.1,280.5 1791.4,353.1 1791.7,467.4 1792.0,596.3 1792.3,720.1 1792.7,822.9 1793.0,906.1 1793.3,969.2 1793.6,1013.5 1793.9,1037.1 1794.2,1044.6 1794.5,1038.4 1794.8,1015.5 1795.1,978.1 1795.5,928.3 1795.8,861.8 1796.1,784.7 1796.4,695.0 1796.7,604.1 1797.0,522.3 1797.3,463.1 1797.6,448.1 1798.0,477.5 1798.3,545.0 1798.6,638.8 1798.9,736.9 1799.2,830.7 1799.5,913.1 1799.8,984.9 1800.1,1045.3 1800.4,1091.0 1800.8,1124.5 1801.1,1151.8 1801.4,1171.1 1801.7,1185.1 1802.0,1194.0 1802.3,1194.3 1802.6,1198.1 1802.9,1192.5 1803.3,1185.3 1803.6,1175.7 1803.9,1158.3 1804.2,1142.3 1804.5,1116.8 1804.8,1091.5 1805.1,1060.4 1805.4,1029.4 1805.7,993.2 1806.1,953.5 1806.4,915.2 1806.7,877.3 1807.0,849.1 1807.3,824.5 1807.6,811.4 1807.9,809.8 1808.2,822.7 1808.6,847.8 1808.9,881.8 1809.2,919.2 1809.5,961.9 1809.8,1005.5 1810.1,1045.2 1810.4,1083.7 1810.7,1116.1 1811.0,1146.9 1811.4,1174.7 1811.7,1199.3 1812.0,1219.4 1812.3,1237.5 1812.6,1252.4 1812.9,1271.0 1813.2,1280.3 1813.5,1288.6 1813.9,1300.1 1814.2,1303.5 1814.5,1309.7 1814.8,1315.6 1815.1,1319.8 1815.4,1322.4 1815.7,1323.0 1816.0,1325.1 1816.3,1324.6 1816.7,1325.8 1817.0,1326.3 1817.3,1326.7 1817.6,1330.3 1817.9,1330.1 1818.2,1331.8 1818.5,1327.0 1818.8,1323.6 1819.2,1322.8 1819.5,1318.8 1819.8,1317.6 1820.1,1306.4 1820.4,1301.4 1820.7,1290.2 1821.0,1278.0 1821.3,1256.9 1821.6,1228.3 1822.0,1188.4 1822.3,1137.7 1822.6,1070.1 1822.9,983.4 1823.2,879.2 1823.5,766.3 1823.8,651.1 1824.1,549.4 1824.5,484.8 1824.8,468.2 1825.1,508.6 1825.4,593.8 1825.7,704.8 1826.0,821.0 1826.3,929.6 1826.6,1027.6 1826.9,1107.1 1827.3,1170.0 1827.6,1218.0 1827.9,1255.5 1828.2,1279.0 1828.5,1296.3 1828.8,1314.0 1829.1,1322.2 1829.4,1327.2 1829.8,1333.0 1830.1,1339.2 1830.4,1337.9 1830.7,1345.5 1831.0,1351.6 1831.3,1355.9 1831.6,1358.2 1831.9,1358.1 1832.2,1364.4 1832.6,1362.7 1832.9,1365.5 1833.2,1362.8 1833.5,1363.8 1833.8,1367.3 1834.1,1367.5 1834.4,1365.8 1834.7,1370.2 1835.1,1368.4 1835.4,1372.5 1835.7,1372.8 1836.0,1372.3 1836.3,1377.7 1836.6,1370.3 1836.9,1375.7 1837.2,1375.9 1837.5,1379.1 1837.9,1373.6 1838.2,1374.9 1838.5,1378.9 1838.8,1382.0 1839.1,1381.3 1839.4,1380.1 1839.7,1378.9 1840.0,1378.7 1840.4,1375.0 1840.7,1375.7 1841.0,1377.5 1841.3,1377.5 1841.6,1372.7 1841.9,1374.9 1842.2,1370.5 1842.5,1375.6 1842.9,1370.8 1843.2,1374.7 1843.5,1374.5 1843.8,1375.7 1844.1,1374.6 1844.4,1377.9 1844.7,1371.5 1845.0,1370.8 1845.3,1364.8 1845.7,1360.8 1846.0,1357.0 1846.3,1355.6 1846.6,1348.6 1846.9,1348.6 1847.2,1348.3 1847.5,1348.0 1847.8,1351.1 1848.2,1349.2 1848.5,1355.3 1848.8,1356.3 1849.1,1361.1 1849.4,1365.7 1849.7,1368.5 1850.0,1367.0 1850.3,1370.4 1850.6,1374.2 1851.0,1365.7 1851.3,1372.7 1851.6,1370.8 1851.9,1364.8 1852.2,1368.2 1852.5,1365.3 1852.8,1362.7 1853.1,1356.8 1853.5,1361.9 1853.8,1362.4 1854.1,1360.7 1854.4,1360.2 1854.7,1361.8 1855.0,1354.4 1855.3,1360.7 1855.6,1359.2 1855.9,1361.0 1856.3,1361.9 1856.6,1363.0 1856.9,1365.7 1857.2,1367.5 1857.5,1360.4 1857.8,1364.3 1858.1,1358.9 1858.4,1355.5 1858.8,1353.0 1859.1,1355.1 1859.4,1348.1 1859.7,1346.2 1860.0,1336.6 1860.3,1328.5 1860.6,1319.9 1860.9,1313.5 1861.2,1305.6 1861.6,1302.5 1861.9,1301.3 1862.2,1301.8 1862.5,1306.7 1862.8,1311.6 1863.1,1321.9 1863.4,1328.4 1863.7,1333.3 1864.1,1340.2 1864.4,1346.7 1864.7,1347.9 1865.0,1358.5 1865.3,1360.2 1865.6,1358.0 1865.9,1358.8 1866.2,1360.1 1866.5,1355.3 1866.9,1351.0 1867.2,1346.4 1867.5,1342.3 1867.8,1343.3 1868.1,1338.1 1868.4,1325.2 1868.7,1316.0 1869.0,1298.4 1869.4,1280.3 1869.7,1255.8 1870.0,1226.3 1870.3,1193.1 1870.6,1146.3 1870.9,1100.0 1871.2,1049.0 1871.5,998.7 1871.8,950.8 1872.2,921.3 1872.5,907.4 1872.8,913.3 1873.1,946.7 1873.4,985.8 1873.7,1037.4 1874.0,1087.3 1874.3,1136.8 1874.7,1183.5 1875.0,1221.4 1875.3,1254.1 1875.6,1281.7 1875.9,1302.9 1876.2,1318.6 1876.5,1328.3 1876.8,1340.8 1877.1,1345.7 1877.5,1349.4 1877.8,1350.8 1878.1,1352.2 1878.4,1352.8 1878.7,1356.3 1879.0,1355.4 1879.3,1361.1 1879.6,1358.2 1880.0,1362.6 1880.3,1365.5 1880.6,1368.0 1880.9,1370.5 1881.2,1370.8 1881.5,1377.4 1881.8,1371.4 1882.1,1373.3 1882.4,1379.4 1882.8,1370.5 1883.1,1374.8 1883.4,1372.3 1883.7,1369.3 1884.0,1370.2 1884.3,1374.5 1884.6,1370.1 1884.9,1372.3 1885.3,1376.4 1885.6,1373.5 1885.9,1375.4 1886.2,1371.5 1886.5,1368.9 1886.8,1370.7 1887.1,1370.6 1887.4,1371.4 1887.7,1367.0 1888.1,1370.0 1888.4,1365.8 1888.7,1362.1 1889.0,1363.8 1889.3,1358.0 1889.6,1353.3 1889.9,1350.3 1890.2,1341.1 1890.6,1332.4 1890.9,1317.3 1891.2,1297.8 1891.5,1275.8 1891.8,1253.1 1892.1,1229.2 1892.4,1207.1 1892.7,1187.8 1893.1,1176.0 1893.4,1177.9 1893.7,1186.7 1894.0,1206.6 1894.3,1230.6 1894.6,1251.0 1894.9,1276.9 1895.2,1299.1 1895.5,1315.8 1895.9,1328.6 1896.2,1340.5 1896.5,1352.5 1896.8,1362.2 1897.1,1360.3 1897.4,1366.3 1897.7,1373.6 1898.0,1371.0 1898.4,1373.2 1898.7,1369.5 1899.0,1378.2 1899.3,1377.3 1899.6,1377.4 1899.9,1375.6 1900.2,1375.0 1900.5,1373.1 1900.8,1373.0 1901.2,1370.6 1901.5,1372.4 1901.8,1367.0 1902.1,1367.8 1902.4,1362.9 1902.7,1367.7 1903.0,1368.6 1903.3,1364.0 1903.7,1366.1 1904.0,1359.7 1904.3,1358.2 1904.6,1355.2 1904.9,1352.2 1905.2,1351.2 1905.5,1348.4 1905.8,1348.2 1906.1,1355.1 1906.5,1350.8 1906.8,1353.1 1907.1,1347.8 1907.4,1350.3 1907.7,1352.0 1908.0,1350.6 1908.3,1350.4 1908.6,1353.8 1909.0,1357.2 1909.3,1361.9 1909.6,1365.5 1909.9,1362.1 1910.2,1362.6 1910.5,1366.4 1910.8,1366.9 1911.1,1368.9 1911.4,1368.6 1911.8,1366.7 1912.1,1374.9 1912.4,1373.7 1912.7,1371.2 1913.0,1378.6 1913.3,1379.4 1913.6,1379.5 1913.9,1375.3 1914.3,1379.7 1914.6,1382.2 1914.9,1383.3 1915.2,1385.5 1915.5,1387.9 1915.8,1390.2 1916.1,1389.4 1916.4,1386.8 1916.7,1390.5 1917.1,1386.6 1917.4,1387.5 1917.7,1382.2 1918.0,1379.5 1918.3,1375.9 1918.6,1381.1 1918.9,1380.6 1919.2,1382.4 1919.6,1386.3 1919.9,1380.7 1920.2,1381.4 1920.5,1385.7 1920.8,1384.5 1921.1,1385.5 1921.4,1384.2 1921.7,1382.1 1922.0,1384.5 1922.4,1384.0 1922.7,1384.7 1923.0,1381.8 1923.3,1377.4 1923.6,1378.7 1923.9,1376.7 1924.2,1375.9 1924.5,1377.5 1924.9,1375.2 1925.2,1372.5 1925.5,1369.2 1925.8,1365.5 1926.1,1363.2 1926.4,1361.5 1926.7,1360.6 1927.0,1358.2 1927.3,1358.4 1927.7,1348.0 1928.0,1346.7 1928.3,1337.9 1928.6,1332.7 1928.9,1322.6 1929.2,1314.9 1929.5,1298.3 1929.8,1275.7 1930.2,1253.1 1930.5,1223.0 1930.8,1187.5 1931.1,1142.7 1931.4,1093.9 1931.7,1042.2 1932.0,991.7 1932.3,945.3 1932.6,911.0 1933.0,896.4 1933.3,906.2 1933.6,931.8 1933.9,974.0 1934.2,1024.0 1934.5,1072.6 1934.8,1119.8 1935.1,1158.5 1935.5,1194.5 1935.8,1218.8 1936.1,1239.2 1936.4,1252.3 1936.7,1261.2 1937.0,1261.4 1937.3,1257.9 1937.6,1255.0 1937.9,1243.6 1938.3,1238.5 1938.6,1235.0 1938.9,1234.0 1939.2,1240.0 1939.5,1251.5 1939.8,1264.0 1940.1,1280.6 1940.4,1292.8 1940.8,1308.0 1941.1,1323.0 1941.4,1333.0 1941.7,1346.7 1942.0,1351.8 1942.3,1358.1 1942.6,1364.5 1942.9,1370.8 1943.3,1363.8 1943.6,1370.3 1943.9,1373.7 1944.2,1375.2 1944.5,1372.1 1944.8,1372.4 1945.1,1377.9 1945.4,1380.3 1945.7,1375.7 1946.1,1379.3 1946.4,1383.3 1946.7,1376.4 1947.0,1382.9 1947.3,1385.7 1947.6,1381.8 1947.9,1384.8 1948.2,1383.8 1948.6,1387.8 1948.9,1387.4 1949.2,1391.7 1949.5,1390.0 1949.8,1393.3 1950.1,1391.3 1950.4,1390.0 1950.7,1395.3 1951.0,1390.1 1951.4,1391.4 1951.7,1397.5 1952.0,1390.6 1952.3,1385.4 1952.6,1389.1 1952.9,1386.7 1953.2,1387.1 1953.5,1382.6 1953.9,1390.1 1954.2,1386.3 1954.5,1390.2 1954.8,1389.7 1955.1,1391.4 1955.4,1394.3 1955.7,1384.9 1956.0,1385.3 1956.3,1384.6 1956.7,1386.3 1957.0,1388.5 1957.3,1383.8 1957.6,1382.4 1957.9,1382.0 1958.2,1383.0 1958.5,1382.3 1958.8,1382.5 1959.2,1382.8 1959.5,1382.7 1959.8,1381.6 1960.1,1377.1 1960.4,1369.8 1960.7,1372.6 1961.0,1365.5 1961.3,1361.1 1961.6,1353.5 1962.0,1351.5 1962.3,1351.5 1962.6,1345.7 1962.9,1345.9 1963.2,1351.3 1963.5,1355.8 1963.8,1358.3 1964.1,1364.5 1964.5,1369.6 1964.8,1368.2 1965.1,1375.7 1965.4,1377.0 1965.7,1379.9 1966.0,1384.4 1966.3,1382.5 1966.6,1384.8 1966.9,1381.8 1967.3,1380.9 1967.6,1378.7 1967.9,1378.0 1968.2,1371.5 1968.5,1373.9 1968.8,1371.3 1969.1,1365.1 1969.4,1358.5 1969.8,1354.9 1970.1,1358.5 1970.4,1354.3 1970.7,1359.7 1971.0,1357.6 1971.3,1364.5 1971.6,1365.5 1971.9,1372.0 1972.2,1376.3 1972.6,1382.3 1972.9,1386.9 1973.2,1384.2 1973.5,1378.9 1973.8,1384.0 1974.1,1383.9 1974.4,1383.5 1974.7,1387.9 1975.1,1390.7 1975.4,1386.7 1975.7,1391.9 1976.0,1393.0 1976.3,1384.1 1976.6,1391.7 1976.9,1394.6 1977.2,1392.5 1977.5,1393.6 1977.9,1391.1 1978.2,1395.0 1978.5,1394.3 1978.8,1391.2 1979.1,1392.3 1979.4,1392.3 1979.7,1389.9 1980.0,1387.2 1980.4,1383.9 1980.7,1377.4 1981.0,1380.0 1981.3,1367.4 1981.6,1368.8 1981.9,1362.3 1982.2,1358.3 1982.5,1360.1 1982.8,1355.4 1983.2,1360.7 1983.5,1360.4 1983.8,1368.0 1984.1,1370.1 1984.4,1376.3 1984.7,1381.2 1985.0,1380.6 1985.3,1383.6 1985.7,1385.8 1986.0,1383.0 1986.3,1390.8 1986.6,1384.3 1986.9,1385.6 1987.2,1383.3 1987.5,1385.5 1987.8,1384.1 1988.1,1386.0 1988.5,1391.0 1988.8,1390.2 1989.1,1387.0 1989.4,1387.7 1989.7,1387.7 1990.0,1384.3 1990.3,1384.9 1990.6,1391.1 1991.0,1389.2 1991.3,1384.0 1991.6,1387.8 1991.9,1390.5 1992.2,1387.0 1992.5,1387.3 1992.8,1384.6 1993.1,1383.4 1993.4,1391.0 1993.8,1396.2 1994.1,1384.6 1994.4,1382.6 1994.7,1386.6 1995.0,1385.7 1995.3,1385.0 1995.6,1387.5 1995.9,1381.5 1996.3,1384.3 1996.6,1386.4 1996.9,1384.1 1997.2,1382.8 1997.5,1381.5 1997.8,1385.4 1998.1,1381.9 1998.4,1377.0 1998.8,1382.2 1999.1,1380.5 1999.4,1376.1 1999.7,1369.8 2000.0,1372.8 2000.3,1363.9 2000.6,1356.9 2000.9,1350.3 2001.2,1341.9 2001.6,1327.9 2001.9,1311.4 2002.2,1301.9 2002.5,1285.9 2002.8,1272.5 2003.1,1263.3 2003.4,1256.2 2003.7,1259.4 2004.1,1269.4 2004.4,1281.0 2004.7,1292.8 2005.0,1310.6 2005.3,1326.3 2005.6,1339.6 2005.9,1345.4 2006.2,1354.0 2006.5,1363.4 2006.9,1367.8 2007.2,1368.9 2007.5,1371.9 2007.8,1375.1 2008.1,1375.7 2008.4,1375.2 2008.7,1378.1 2009.0,1378.1 2009.4,1375.7 2009.7,1378.6 2010.0,1384.0 2010.3,1385.4 2010.6,1377.6 2010.9,1377.6 2011.2,1379.4 2011.5,1376.7 2011.8,1375.4 2012.2,1375.2 2012.5,1377.8 2012.8,1378.0 2013.1,1383.1 2013.4,1381.7 2013.7,1384.0 2014.0,1386.9 2014.3,1383.8 2014.7,1379.4 2015.0,1380.6 2015.3,1376.5 2015.6,1377.0 2015.9,1377.7 2016.2,1380.5 2016.5,1376.7 2016.8,1374.8 2017.1,1369.6 2017.5,1362.6 2017.8,1352.3 2018.1,1344.9 2018.4,1332.3 2018.7,1321.0 2019.0,1307.1 2019.3,1289.5 2019.6,1281.1 2020.0,1270.8 2020.3,1260.9 2020.6,1258.8 2020.9,1264.0 2021.2,1271.9 2021.5,1286.5 2021.8,1299.4 2022.1,1313.7 2022.4,1327.2 2022.8,1333.6 2023.1,1347.2 2023.4,1353.4 2023.7,1363.3 2024.0,1368.9 2024.3,1372.1 2024.6,1372.9 2024.9,1382.1 2025.3,1378.2 2025.6,1376.3 2025.9,1380.7 2026.2,1375.9 2026.5,1384.0 2026.8,1383.2 2027.1,1382.3 2027.4,1381.6 2027.7,1382.3 2028.1,1377.8 2028.4,1379.2 2028.7,1381.4 2029.0,1379.2 2029.3,1379.1 2029.6,1373.2 2029.9,1371.1 2030.2,1368.6 2030.6,1363.3 2030.9,1356.1 2031.2,1346.7 2031.5,1337.7 2031.8,1333.8 2032.1,1316.8 2032.4,1305.5 2032.7,1294.1 2033.0,1285.7 2033.4,1274.0 2033.7,1271.6 2034.0,1271.6 2034.3,1273.7 2034.6,1283.6 2034.9,1292.7 2035.2,1306.5 2035.5,1317.1 2035.9,1326.3 2036.2,1335.7 2036.5,1346.9 2036.8,1352.5 2037.1,1360.9 2037.4,1362.3 2037.7,1368.0 2038.0,1375.9 2038.3,1375.2 2038.7,1380.3 2039.0,1380.9 2039.3,1382.5 2039.6,1381.7 2039.9,1383.7 2040.2,1385.2 2040.5,1383.3 2040.8,1382.9 2041.2,1381.1 2041.5,1383.3 2041.8,1379.0 2042.1,1380.6 2042.4,1385.1 2042.7,1386.5 2043.0,1389.0 2043.3,1391.2 2043.6,1391.4 2044.0,1389.8 2044.3,1386.0 2044.6,1383.7 2044.9,1387.7 2045.2,1381.7 2045.5,1377.6 2045.8,1375.6 2046.1,1383.5 2046.5,1380.2 2046.8,1385.1 2047.1,1387.5 2047.4,1389.8 2047.7,1383.6 2048.0,1386.1 2048.3,1384.6 2048.6,1380.7 2049.0,1378.8 2049.3,1375.8 2049.6,1376.0 2049.9,1376.6 2050.2,1369.4 2050.5,1373.7 2050.8,1370.1 2051.1,1369.2 2051.4,1368.8 2051.8,1366.8 2052.1,1369.8 2052.4,1369.2 2052.7,1369.6 2053.0,1371.7 2053.3,1369.9 2053.6,1370.8 2053.9,1372.9 2054.3,1377.4 2054.6,1377.9 2054.9,1380.6 2055.2,1376.7 2055.5,1380.7 2055.8,1379.5 2056.1,1385.9 2056.4,1385.8 2056.7,1383.6 2057.1,1383.1 2057.4,1384.2 2057.7,1383.0 2058.0,1387.1 2058.3,1381.8 2058.6,1387.0 2058.9,1383.2 2059.2,1377.1 2059.6,1374.0 2059.9,1372.9 2060.2,1372.6 2060.5,1367.0 2060.8,1367.2 2061.1,1366.6 2061.4,1362.6 2061.7,1353.6 2062.0,1349.4 2062.4,1351.4 2062.7,1349.7 2063.0,1340.8 2063.3,1337.1 2063.6,1330.5 2063.9,1325.0 2064.2,1324.3 2064.5,1319.5 2064.9,1318.6 2065.2,1319.4 2065.5,1318.9 2065.8,1323.1 2066.1,1319.7 2066.4,1325.8 2066.7,1327.7 2067.0,1337.5 2067.3,1336.5 2067.7,1339.6 2068.0,1348.3 2068.3,1345.9 2068.6,1354.9 2068.9,1355.8 2069.2,1365.6 2069.5,1366.3 2069.8,1371.0 2070.2,1373.1 2070.5,1371.2 2070.8,1369.8 2071.1,1379.1 2071.4,1377.0 2071.7,1374.4 2072.0,1374.8 2072.3,1381.7 2072.6,1376.0 2073.0,1383.0 2073.3,1375.7 2073.6,1377.0 2073.9,1383.8 2074.2,1379.8 2074.5,1378.8 2074.8,1385.4 2075.1,1386.1 2075.5,1388.7 2075.8,1382.2 2076.1,1381.9 2076.4,1384.2 2076.7,1380.6 2077.0,1376.4 2077.3,1377.8 2077.6,1380.5 2077.9,1375.6 2078.3,1379.7 2078.6,1374.8 2078.9,1375.0 2079.2,1371.2 2079.5,1371.5 2079.8,1373.6 2080.1,1371.0 2080.4,1367.9 2080.8,1364.5 2081.1,1356.3 2081.4,1359.9 2081.7,1357.7 2082.0,1358.1 2082.3,1360.1 2082.6,1362.9 2082.9,1366.1 2083.2,1364.6 2083.6,1365.8 2083.9,1364.0 2084.2,1369.9 2084.5,1367.0 2084.8,1370.7 2085.1,1367.8 2085.4,1367.8 2085.7,1370.2 2086.1,1368.5 2086.4,1366.5 2086.7,1368.6 2087.0,1367.8 2087.3,1366.7 2087.6,1364.8 2087.9,1363.5 2088.2,1365.1 2088.5,1358.7 2088.9,1363.8 2089.2,1357.6 2089.5,1357.4 2089.8,1351.2 2090.1,1351.8 2090.4,1351.2 2090.7,1347.4 2091.0,1342.6 2091.4,1332.6 2091.7,1330.8 2092.0,1317.6 2092.3,1308.6 2092.6,1295.0 2092.9,1277.2 2093.2,1260.2 2093.5,1235.5 2093.8,1206.1 2094.2,1174.6 2094.5,1138.8 2094.8,1096.4 2095.1,1054.4 2095.4,1014.3 2095.7,974.4 2096.0,948.2 2096.3,935.4 2096.7,942.5 2097.0,964.6 2097.3,996.0 2097.6,1038.8 2097.9,1084.2 2098.2,1124.3 2098.5,1164.1 2098.8,1196.3 2099.2,1222.8 2099.5,1250.6 2099.8,1272.6 2100.1,1286.6 2100.4,1304.0 2100.7,1313.0 2101.0,1322.6 2101.3,1331.0 2101.6,1340.0 2102.0,1343.9 2102.3,1347.5 2102.6,1355.1 2102.9,1351.2 2103.2,1354.1 2103.5,1358.5 2103.8,1360.2 2104.1,1358.3 2104.5,1364.9 2104.8,1362.6 2105.1,1361.4 2105.4,1368.4 2105.7,1368.9 2106.0,1374.2 2106.3,1369.1 2106.6,1370.3 2106.9,1374.5 2107.3,1375.6 2107.6,1378.6 2107.9,1378.7 2108.2,1375.5 2108.5,1377.7 2108.8,1379.6 2109.1,1379.8 2109.4,1377.6 2109.8,1380.5 2110.1,1381.3 2110.4,1380.2 2110.7,1380.0 2111.0,1380.3 2111.3,1385.0 2111.6,1378.7 2111.9,1375.7 2112.2,1377.0 2112.6,1376.7 2112.9,1380.7 2113.2,1373.2 2113.5,1372.7 2113.8,1378.3 2114.1,1377.4 2114.4,1376.6 2114.7,1379.3 2115.1,1372.7 2115.4,1381.7 2115.7,1377.9 2116.0,1378.1 2116.3,1380.3 2116.6,1377.5 2116.9,1381.0 2117.2,1380.4 2117.5,1376.5 2117.9,1381.6 2118.2,1387.0 2118.5,1379.5 2118.8,1383.2 2119.1,1383.3 2119.4,1377.8 2119.7,1378.5 2120.0,1382.1 2120.4,1377.5 2120.7,1381.3 2121.0,1380.8 2121.3,1381.3 2121.6,1378.7 2121.9,1379.4 2122.2,1375.0 2122.5,1378.3 2122.8,1376.5 2123.2,1376.1 2123.5,1374.3 2123.8,1376.7 2124.1,1372.4 2124.4,1373.6 2124.7,1372.2 2125.0,1366.8 2125.3,1361.3 2125.7,1358.9 2126.0,1359.1 2126.3,1354.1 2126.6,1350.9 2126.9,1343.6 2127.2,1336.4 2127.5,1324.8 2127.8,1310.6 2128.1,1296.2 2128.5,1281.9 2128.8,1264.8 2129.1,1246.4 2129.4,1228.6 2129.7,1213.6 2130.0,1201.6 2130.3,1203.0 2130.6,1208.9 2131.0,1218.5 2131.3,1231.4 2131.6,1250.8 2131.9,1267.1 2132.2,1286.2 2132.5,1299.6 2132.8,1312.0 2133.1,1323.2 2133.4,1329.1 2133.8,1340.8 2134.1,1344.4 2134.4,1351.6 2134.7,1359.2 2135.0,1362.6 2135.3,1366.7 2135.6,1367.1 2135.9,1370.7 2136.3,1371.0 2136.6,1368.6 2136.9,1374.2 2137.2,1373.3 2137.5,1371.7 2137.8,1375.0 2138.1,1369.9 2138.4,1374.4 2138.7,1378.6 2139.1,1372.5 2139.4,1374.3 2139.7,1373.6 2140.0,1373.2 2140.3,1371.5 2140.6,1379.5 2140.9,1380.8 2141.2,1378.4 2141.6,1382.0 2141.9,1384.5 2142.2,1380.6 2142.5,1382.7 2142.8,1378.7 2143.1,1381.0 2143.4,1382.4 2143.7,1380.1 2144.0,1377.7 2144.4,1378.2 2144.7,1380.0 2145.0,1377.3 2145.3,1383.0 2145.6,1383.1 2145.9,1388.0 2146.2,1383.7 2146.5,1388.8 2146.9,1382.7 2147.2,1380.0 2147.5,1381.6 2147.8,1381.6 2148.1,1380.3 2148.4,1379.5 2148.7,1381.6 2149.0,1386.2 2149.3,1386.2 2149.7,1386.2 2150.0,1387.6 2150.3,1389.3 2150.6,1381.5 2150.9,1382.5 2151.2,1378.1 2151.5,1383.4 2151.8,1383.4 2152.2,1384.6 2152.5,1381.0 2152.8,1384.7 2153.1,1387.8 2153.4,1387.4 2153.7,1387.9 2154.0,1387.8 2154.3,1388.6 2154.7,1383.6 2155.0,1384.1 2155.3,1377.9 2155.6,1380.2 2155.9,1377.7 2156.2,1378.1 2156.5,1374.7 2156.8,1376.0 2157.1,1377.7 2157.5,1368.8 2157.8,1367.4 2158.1,1368.5 2158.4,1370.1 2158.7,1367.1 2159.0,1360.5 2159.3,1357.8 2159.6,1353.8 2160.0,1350.5 2160.3,1348.4 2160.6,1345.9 2160.9,1343.8 2161.2,1340.0 2161.5,1341.9 2161.8,1344.1 2162.1,1342.0 2162.4,1346.7 2162.8,1346.2 2163.1,1350.0 2163.4,1352.2 2163.7,1355.7 2164.0,1357.8 2164.3,1356.9 2164.6,1352.1 2164.9,1351.3 2165.3,1351.5 2165.6,1341.5 2165.9,1337.0 2166.2,1327.4 2166.5,1323.3 2166.8,1310.2 2167.1,1295.5 2167.4,1279.7 2167.7,1263.5 2168.1,1242.9 2168.4,1221.6 2168.7,1200.5 2169.0,1175.6 2169.3,1153.6 2169.6,1138.8 2169.9,1132.7 2170.2,1134.5 2170.6,1145.1 2170.9,1164.9 2171.2,1185.7 2171.5,1210.4 2171.8,1236.1 2172.1,1255.6 2172.4,1277.7 2172.7,1293.6 2173.0,1307.2 2173.4,1319.5 2173.7,1329.0 2174.0,1334.9 2174.3,1344.2 2174.6,1352.3 2174.9,1356.7 2175.2,1361.3 2175.5,1361.7 2175.9,1365.8 2176.2,1364.5 2176.5,1363.9 2176.8,1367.8 2177.1,1364.4 2177.4,1368.0 2177.7,1372.9 2178.0,1369.4 2178.3,1373.4 2178.7,1369.7 2179.0,1370.3 2179.3,1374.5 2179.6,1374.2 2179.9,1375.8 2180.2,1378.6 2180.5,1383.1 2180.8,1382.2 2181.2,1377.3 2181.5,1376.3 2181.8,1386.8 2182.1,1376.7 2182.4,1381.9 2182.7,1375.9 2183.0,1379.9 2183.3,1384.8 2183.6,1378.1 2184.0,1378.3 2184.3,1378.1 2184.6,1376.3 2184.9,1377.6 2185.2,1380.3 2185.5,1384.3 2185.8,1382.0 2186.1,1383.3 2186.5,1386.5 2186.8,1388.1 2187.1,1383.4 2187.4,1379.1 2187.7,1381.8 2188.0,1387.2 2188.3,1383.7 2188.6,1380.8 2188.9,1381.2 2189.3,1385.9 2189.6,1383.7 2189.9,1381.0 2190.2,1380.8 2190.5,1380.2 2190.8,1392.4 2191.1,1387.1 2191.4,1386.5 2191.8,1385.9 2192.1,1391.1 2192.4,1387.1 2192.7,1383.4 2193.0,1384.7 2193.3,1387.2 2193.6,1393.6 2193.9,1385.8 2194.2,1382.3 2194.6,1384.6 2194.9,1384.0 2195.2,1383.1 2195.5,1385.5 2195.8,1385.1 2196.1,1384.5 2196.4,1386.9 2196.7,1384.0 2197.1,1383.7 2197.4,1381.5 2197.7,1382.2 2198.0,1381.6 2198.3,1380.0 2198.6,1375.9 2198.9,1382.0 2199.2,1379.1 2199.5,1383.7 2199.9,1383.9 2200.2,1390.2 2200.5,1387.2 2200.8,1383.4 2201.1,1385.0 2201.4,1385.7 2201.7,1382.9 2202.0,1388.1 2202.4,1373.0 2202.7,1383.2 2203.0,1382.8 2203.3,1382.1 2203.6,1378.3 2203.9,1382.9 2204.2,1386.2 2204.5,1386.2 2204.9,1382.4 2205.2,1384.5 2205.5,1387.9 2205.8,1385.2 2206.1,1380.3 2206.4,1377.8 2206.7,1381.2 2207.0,1375.5 2207.3,1380.8 2207.7,1380.2 2208.0,1377.7 2208.3,1382.9 2208.6,1382.6 2208.9,1379.9 2209.2,1373.0 2209.5,1371.2 2209.8,1371.6 2210.2,1365.9 2210.5,1367.0 2210.8,1368.5 2211.1,1362.3 2211.4,1360.4 2211.7,1361.8 2212.0,1358.0 2212.3,1349.8 2212.6,1341.0 2213.0,1333.5 2213.3,1326.8 2213.6,1314.3 2213.9,1305.1 2214.2,1296.7 2214.5,1279.9 2214.8,1275.5 2215.1,1271.6 2215.5,1269.2 2215.8,1275.1 2216.1,1281.7 2216.4,1292.1 2216.7,1305.9 2217.0,1313.5 2217.3,1321.1 2217.6,1329.4 2217.9,1335.2 2218.3,1343.0 2218.6,1345.6 2218.9,1346.9 2219.2,1347.4 2219.5,1347.3 2219.8,1346.8 2220.1,1342.8 2220.4,1334.0 2220.8,1328.3 2221.1,1316.2 2221.4,1307.6 2221.7,1293.1 2222.0,1277.2 2222.3,1262.1 2222.6,1250.4 2222.9,1234.7 2223.2,1222.6 2223.6,1219.3 2223.9,1223.0 2224.2,1231.9 2224.5,1241.8 2224.8,1257.1 2225.1,1271.8 2225.4,1285.1 2225.7,1302.0 2226.1,1312.4 2226.4,1327.5 2226.7,1333.5 2227.0,1342.3 2227.3,1347.3 2227.6,1352.8 2227.9,1359.9 2228.2,1363.2 2228.5,1366.9 2228.9,1367.5 2229.2,1371.9 2229.5,1369.4 2229.8,1372.2 2230.1,1371.5 2230.4,1370.4 2230.7,1375.8 2231.0,1372.3 2231.4,1369.7 2231.7,1364.2 2232.0,1361.1 2232.3,1357.0 2232.6,1356.8 2232.9,1351.4 2233.2,1351.1 2233.5,1349.4 2233.8,1353.2 2234.2,1351.9 2234.5,1354.3 2234.8,1357.4 2235.1,1357.7 2235.4,1364.0 2235.7,1364.4 2236.0,1368.4 2236.3,1366.9 2236.7,1371.9 2237.0,1376.8 2237.3,1378.4 2237.6,1376.4 2237.9,1378.5 2238.2,1378.1 2238.5,1377.5 2238.8,1373.4 2239.1,1376.0 2239.5,1374.1 2239.8,1370.8 2240.1,1366.1 2240.4,1367.9 2240.7,1371.9 2241.0,1363.6 2241.3,1368.1 2241.6,1366.1 2242.0,1368.2 2242.3,1362.7 2242.6,1365.9 2242.9,1363.5 2243.2,1363.2 2243.5,1361.8 2243.8,1365.5 2244.1,1365.9 2244.4,1367.6 2244.8,1373.6 2245.1,1372.7 2245.4,1379.5 2245.7,1374.2 2246.0,1374.5 2246.3,1374.2 2246.6,1380.2 2246.9,1378.7 2247.3,1374.4 2247.6,1379.1 2247.9,1375.6 2248.2,1378.6 2248.5,1374.9 2248.8,1373.5 2249.1,1377.1 2249.4,1377.1 2249.7,1375.2 2250.1,1373.5 2250.4,1371.9 2250.7,1368.1 2251.0,1370.3 2251.3,1367.9 2251.6,1368.5 2251.9,1368.7 2252.2,1364.5 2252.6,1355.3 2252.9,1357.1 2253.2,1355.9 2253.5,1354.6 2253.8,1352.1 2254.1,1345.5 2254.4,1345.0 2254.7,1343.8 2255.1,1335.9 2255.4,1335.2 2255.7,1328.5 2256.0,1324.6 2256.3,1312.3 2256.6,1301.3 2256.9,1293.3 2257.2,1281.8 2257.5,1270.0 2257.9,1252.4 2258.2,1235.5 2258.5,1226.4 2258.8,1206.0 2259.1,1188.5 2259.4,1175.7 2259.7,1157.3 2260.0,1145.7 2260.4,1137.8 2260.7,1134.8 2261.0,1134.4 2261.3,1140.3 2261.6,1146.8 2261.9,1161.8 2262.2,1173.5 2262.5,1184.6 2262.8,1199.9 2263.2,1211.5 2263.5,1224.8 2263.8,1233.2 2264.1,1244.6 2264.4,1248.7 2264.7,1253.9 2265.0,1262.8 2265.3,1265.6 2265.7,1278.0 2266.0,1282.6 2266.3,1290.4 2266.6,1293.3 2266.9,1298.0 2267.2,1309.1 2267.5,1312.2 2267.8,1319.8 2268.1,1327.4 2268.5,1336.5 2268.8,1339.2 2269.1,1342.0 2269.4,1353.4 2269.7,1355.2 2270.0,1360.5 2270.3,1363.5 2270.6,1367.4 2271.0,1368.1 2271.3,1371.4 2271.6,1375.2 2271.9,1374.1 2272.2,1373.4 2272.5,1373.3 2272.8,1363.9 2273.1,1367.9 2273.4,1368.4 2273.8,1362.0 2274.1,1366.1 2274.4,1369.4 2274.7,1366.6 2275.0,1362.1 2275.3,1365.6 2275.6,1365.4 2275.9,1366.3 2276.3,1366.4 2276.6,1370.2 2276.9,1370.3 2277.2,1364.6 2277.5,1369.9 2277.8,1361.9 2278.1,1358.6 2278.4,1353.9 2278.7,1345.7 2279.1,1339.9 2279.4,1336.0 2279.7,1323.8 2280.0,1317.2 2280.3,1316.7 2280.6,1309.5 2280.9,1305.8 2281.2,1304.3 2281.6,1304.4 2281.9,1307.8 2282.2,1316.3 2282.5,1322.2 2282.8,1332.0 2283.1,1339.3 2283.4,1345.1 2283.7,1352.3 2284.0,1354.8 2284.4,1358.3 2284.7,1367.5 2285.0,1367.2 2285.3,1369.5 2285.6,1370.5 2285.9,1372.6 2286.2,1374.3 2286.5,1375.0 2286.9,1374.6 2287.2,1369.6 2287.5,1370.6 2287.8,1369.3 2288.1,1363.8 2288.4,1355.7 2288.7,1356.0 2289.0,1354.3 2289.3,1351.5 2289.7,1342.0 2290.0,1342.6 2290.3,1345.3 2290.6,1344.6 2290.9,1348.5 2291.2,1349.5 2291.5,1354.6 2291.8,1358.1 2292.2,1361.2 2292.5,1368.2 2292.8,1368.1 2293.1,1370.8 2293.4,1370.6 2293.7,1381.8 2294.0,1376.1 2294.3,1376.2 2294.6,1376.0 2295.0,1378.6 2295.3,1381.1 2295.6,1382.2 2295.9,1382.9 2296.2,1381.3 2296.5,1383.4 2296.8,1385.2 2297.1,1383.2 2297.5,1383.1 2297.8,1381.1 2298.1,1381.0 2298.4,1381.0 2298.7,1386.4 2299.0,1382.9 2299.3,1387.6 2299.6,1383.2 2299.9,1386.4 2300.3,1383.3 2300.6,1383.0 2300.9,1379.2 2301.2,1386.2 2301.5,1381.3 2301.8,1377.8 2302.1,1380.6"/>
<g stroke="#000" stroke-width="6" fill="none" stroke-linecap="butt">
<path d="M308.0 131.9V1450.9"/>
<path d="M279.5 1447.9H1169.0"/>
<path d="M1445.0 132.2V1450.9"/>
<path d="M1429.0 1447.9H2306.0"/>
<path d="M308.0 1447.9v27.5 M386.0 1447.9v15 M464.0 1447.9v27.5 M542.0 1447.9v15 M620.0 1447.9v27.5 M698.0 1447.9v15 M776.0 1447.9v27.5 M854.0 1447.9v15 M932.0 1447.9v27.5 M1010.0 1447.9v15 M1088.0 1447.9v27.5 M1166.0 1447.9v15"/>
<path d="M1445.0 1447.9v27.5 M1523.0 1447.9v15 M1601.0 1447.9v27.5 M1679.0 1447.9v15 M1757.0 1447.9v27.5 M1835.0 1447.9v15 M1913.0 1447.9v27.5 M1991.0 1447.9v15 M2069.0 1447.9v27.5 M2147.0 1447.9v15 M2225.0 1447.9v27.5 M2303.0 1447.9v15"/>
<path d="M308.0 1316.6h-28.5 M308.0 1185.3h-28.5 M308.0 1054.0h-28.5 M308.0 922.7h-28.5 M308.0 791.4h-28.5 M308.0 660.0h-28.5 M308.0 528.7h-28.5 M308.0 397.4h-28.5 M308.0 266.1h-28.5 M308.0 134.8h-28.5"/>
<path d="M1445.0 1302.0h-28 M1445.0 1156.1h-16 M1445.0 1010.3h-28 M1445.0 864.4h-16 M1445.0 718.5h-28 M1445.0 572.6h-16 M1445.0 426.7h-28 M1445.0 280.9h-16 M1445.0 135.0h-28"/>
</g>
<text transform="translate(308.40 1535.80) scale(0.9080 1)" font-size="65.00" text-anchor="middle">10</text>
<text transform="translate(1445.40 1535.80) scale(0.9080 1)" font-size="65.00" text-anchor="middle">10</text>
<text transform="translate(464.40 1535.80) scale(0.9080 1)" font-size="65.00" text-anchor="middle">20</text>
<text transform="translate(1601.40 1535.80) scale(0.9080 1)" font-size="65.00" text-anchor="middle">20</text>
<text transform="translate(620.40 1535.80) scale(0.9080 1)" font-size="65.00" text-anchor="middle">30</text>
<text transform="translate(1757.40 1535.80) scale(0.9080 1)" font-size="65.00" text-anchor="middle">30</text>
<text transform="translate(776.40 1535.80) scale(0.9080 1)" font-size="65.00" text-anchor="middle">40</text>
<text transform="translate(1913.40 1535.80) scale(0.9080 1)" font-size="65.00" text-anchor="middle">40</text>
<text transform="translate(932.40 1535.80) scale(0.9080 1)" font-size="65.00" text-anchor="middle">50</text>
<text transform="translate(2069.40 1535.80) scale(0.9080 1)" font-size="65.00" text-anchor="middle">50</text>
<text transform="translate(1088.40 1535.80) scale(0.9080 1)" font-size="65.00" text-anchor="middle">60</text>
<text transform="translate(2225.40 1535.80) scale(0.9080 1)" font-size="65.00" text-anchor="middle">60</text>
<text transform="translate(234.00 1463.70) scale(0.9080 1)" font-size="65.00">0</text>
<text transform="translate(168.34 1332.39) scale(0.9080 1)" font-size="65.00">200</text>
<text transform="translate(168.34 1201.08) scale(0.9080 1)" font-size="65.00">400</text>
<text transform="translate(168.34 1069.77) scale(0.9080 1)" font-size="65.00">600</text>
<text transform="translate(168.34 938.46) scale(0.9080 1)" font-size="65.00">800</text>
<text transform="translate(135.59 807.15) scale(0.9080 1)" font-size="65.00">1000</text>
<text transform="translate(135.59 675.84) scale(0.9080 1)" font-size="65.00">1200</text>
<text transform="translate(135.59 544.53) scale(0.9080 1)" font-size="65.00">1400</text>
<text transform="translate(135.59 413.22) scale(0.9080 1)" font-size="65.00">1600</text>
<text transform="translate(135.59 281.91) scale(0.9080 1)" font-size="65.00">1800</text>
<text transform="translate(135.59 150.60) scale(0.9080 1)" font-size="65.00">2000</text>
<text transform="translate(1305.34 1317.82) scale(0.9080 1)" font-size="65.00">200</text>
<text transform="translate(1305.34 1026.06) scale(0.9080 1)" font-size="65.00">400</text>
<text transform="translate(1305.34 734.30) scale(0.9080 1)" font-size="65.00">600</text>
<text transform="translate(1305.34 442.54) scale(0.9080 1)" font-size="65.00">800</text>
<text transform="translate(1272.59 150.78) scale(0.9080 1)" font-size="65.00">1000</text>
<text transform="translate(79.10 710.43) rotate(-90) scale(0.9586 1)" font-size="71.5">I (a.u.)</text>
<text transform="translate(1239.30 662.63) rotate(-90) scale(0.9586 1)" font-size="71.5">I (a.u.)</text>
<text transform="translate(605.76 1655.30) scale(0.9404 1)" font-size="70.97">2</text><text class="ser" transform="translate(656.36 1656.40) scale(1.0223 1)" font-size="65.29">θ</text><text class="ser" style="font-weight:400" transform="translate(709.37 1654.20) scale(1.0020 1)" font-size="59.30">(</text><text transform="translate(730.29 1655.00) scale(0.9632 1)" font-size="67.86">deg.</text><text class="ser" transform="translate(865.92 1654.10) scale(0.8773 1)" font-size="69.50">)</text>
<text transform="translate(1751.76 1648.40) scale(0.9404 1)" font-size="70.97">2</text><text class="ser" transform="translate(1802.36 1649.50) scale(1.0223 1)" font-size="65.29">θ</text><text class="ser" style="font-weight:400" transform="translate(1855.37 1647.30) scale(1.0020 1)" font-size="59.30">(</text><text transform="translate(1876.29 1648.10) scale(0.9632 1)" font-size="67.86">deg.</text><text class="ser" transform="translate(2011.92 1647.20) scale(0.8773 1)" font-size="69.50">)</text>
<ellipse cx="415.1" cy="51.5" rx="11.55" ry="12.10" fill="#fff" stroke="#000" stroke-width="5"/><ellipse cx="649.5" cy="51.5" rx="12.10" ry="12.10" fill="#FF8000" stroke="#000" stroke-width="5"/><ellipse cx="415.1" cy="128.6" rx="11.55" ry="12.00" fill="#9900FF" stroke="#000" stroke-width="5"/><ellipse cx="644.5" cy="133.1" rx="11.05" ry="11.45" fill="#00FF00" stroke="#000" stroke-width="5"/><text transform="translate(443.74 63.70) scale(1.0152 1)" font-size="58.12">-</text><text transform="translate(474.80 62.60) scale(0.9208 1)" font-size="59.86">C</text><text transform="translate(514.28 84.60) scale(0.9082 1)" font-size="35.41">3</text><text transform="translate(532.33 63.40) scale(0.9108 1)" font-size="61.00">S</text><text transform="translate(688.61 65.50) scale(1.0289 1)" font-size="58.12">-</text><text transform="translate(719.69 64.60) scale(0.9244 1)" font-size="59.78">C</text><text transform="translate(760.16 86.70) scale(0.9252 1)" font-size="35.41">3</text><text transform="translate(775.75 65.00) scale(0.9711 1)" font-size="59.64">A</text><text transform="translate(449.51 142.70) scale(1.0289 1)" font-size="58.12">-</text><text transform="translate(481.80 141.70) scale(0.9171 1)" font-size="59.93">C</text><text transform="translate(520.82 164.00) scale(0.9425 1)" font-size="35.84">2</text><text transform="translate(539.13 142.50) scale(0.9098 1)" font-size="61.08">S</text><text transform="translate(676.92 149.00) scale(1.0376 1)" font-size="50.00">-</text><text transform="translate(706.03 149.40) scale(0.8965 1)" font-size="54.91">CaO</text>
<ellipse cx="1927.5" cy="76.9" rx="11.55" ry="12.10" fill="#fff" stroke="#000" stroke-width="5"/><ellipse cx="2162.0" cy="76.9" rx="12.10" ry="12.10" fill="#FF8000" stroke="#000" stroke-width="5"/><ellipse cx="1927.5" cy="154.0" rx="11.55" ry="12.00" fill="#9900FF" stroke="#000" stroke-width="5"/><ellipse cx="2156.9" cy="158.5" rx="11.05" ry="11.45" fill="#00FF00" stroke="#000" stroke-width="5"/><text transform="translate(1956.24 89.10) scale(1.0152 1)" font-size="58.12">-</text><text transform="translate(1987.30 88.00) scale(0.9208 1)" font-size="59.86">C</text><text transform="translate(2026.78 110.00) scale(0.9082 1)" font-size="35.41">3</text><text transform="translate(2044.83 88.80) scale(0.9108 1)" font-size="61.00">S</text><text transform="translate(2201.11 90.90) scale(1.0289 1)" font-size="58.13">-</text><text transform="translate(2232.19 90.00) scale(0.9244 1)" font-size="59.78">C</text><text transform="translate(2272.66 112.10) scale(0.9252 1)" font-size="35.41">3</text><text transform="translate(2288.25 90.40) scale(0.9711 1)" font-size="59.64">A</text><text transform="translate(1962.01 168.10) scale(1.0289 1)" font-size="58.12">-</text><text transform="translate(1994.30 167.10) scale(0.9171 1)" font-size="59.93">C</text><text transform="translate(2033.32 189.40) scale(0.9425 1)" font-size="35.84">2</text><text transform="translate(2051.63 167.90) scale(0.9098 1)" font-size="61.08">S</text><text transform="translate(2189.42 174.40) scale(1.0376 1)" font-size="50.00">-</text><text transform="translate(2218.53 174.80) scale(0.8965 1)" font-size="54.91">CaO</text>
<ellipse cx="382.9" cy="1243.5" rx="10.6" ry="12.1" fill="none" stroke="#000" stroke-width="5"/>
<ellipse cx="412.9" cy="1302.6" rx="10.6" ry="12.1" fill="none" stroke="#000" stroke-width="5"/>
<ellipse cx="506.2" cy="1264.8" rx="10.6" ry="12.1" fill="none" stroke="#000" stroke-width="5"/>
<ellipse cx="544.6" cy="1296.4" rx="10.6" ry="12.1" fill="none" stroke="#000" stroke-width="5"/>
<ellipse cx="584.6" cy="1305.4" rx="10.6" ry="12.1" fill="none" stroke="#000" stroke-width="5"/>
<ellipse cx="608.7" cy="489.3" rx="11.5" ry="11.7" fill="#9900FF" stroke="#000" stroke-width="5"/>
<ellipse cx="609.8" cy="523.6" rx="10.6" ry="12.1" fill="none" stroke="#000" stroke-width="5"/>
<ellipse cx="622.7" cy="1148.2" rx="10.6" ry="12.1" fill="none" stroke="#000" stroke-width="5"/>
<ellipse cx="658.6" cy="217.0" rx="10.6" ry="12.1" fill="none" stroke="#000" stroke-width="5"/>
<ellipse cx="672.4" cy="308.3" rx="11.5" ry="11.7" fill="#9900FF" stroke="#000" stroke-width="5"/>
<ellipse cx="671.3" cy="359.6" rx="10.6" ry="12.1" fill="none" stroke="#000" stroke-width="5"/>
<ellipse cx="695.6" cy="365.8" rx="11.5" ry="11.7" fill="#9900FF" stroke="#000" stroke-width="5"/>
<ellipse cx="692.5" cy="399.6" rx="10.6" ry="12.1" fill="none" stroke="#000" stroke-width="5"/>
<ellipse cx="671.7" cy="1230.3" rx="11.5" ry="11.7" fill="#FF8000" stroke="#000" stroke-width="5"/>
<ellipse cx="720.8" cy="1211.9" rx="11.5" ry="11.7" fill="#9900FF" stroke="#000" stroke-width="5"/>
<ellipse cx="720.0" cy="1248.2" rx="10.6" ry="12.1" fill="none" stroke="#000" stroke-width="5"/>
<ellipse cx="743.4" cy="594.4" rx="11.5" ry="11.7" fill="#9900FF" stroke="#000" stroke-width="5"/>
<ellipse cx="742.0" cy="636.3" rx="11.5" ry="11.7" fill="#00FF00" stroke="#000" stroke-width="5"/>
<ellipse cx="756.1" cy="1163.2" rx="10.6" ry="12.1" fill="none" stroke="#000" stroke-width="5"/>
<ellipse cx="798.3" cy="852.6" rx="10.6" ry="12.1" fill="none" stroke="#000" stroke-width="5"/>
<ellipse cx="816.7" cy="1205.3" rx="10.6" ry="12.1" fill="none" stroke="#000" stroke-width="5"/>
<ellipse cx="865.9" cy="1233.0" rx="10.6" ry="12.1" fill="none" stroke="#000" stroke-width="5"/>
<ellipse cx="889.2" cy="1195.0" rx="10.6" ry="12.1" fill="none" stroke="#000" stroke-width="5"/>
<ellipse cx="903.5" cy="1317.3" rx="11.5" ry="11.7" fill="#FF8000" stroke="#000" stroke-width="5"/>
<ellipse cx="933.6" cy="1279.5" rx="10.6" ry="12.1" fill="none" stroke="#000" stroke-width="5"/>
<ellipse cx="956.3" cy="836.3" rx="11.5" ry="11.7" fill="#9900FF" stroke="#000" stroke-width="5"/>
<ellipse cx="957.1" cy="870.5" rx="10.6" ry="12.1" fill="none" stroke="#000" stroke-width="5"/>
<ellipse cx="997.8" cy="1062.8" rx="11.5" ry="11.7" fill="#00FF00" stroke="#000" stroke-width="5"/>
<ellipse cx="996.1" cy="1106.2" rx="11.5" ry="11.7" fill="#9900FF" stroke="#000" stroke-width="5"/>
<ellipse cx="1035.9" cy="1071.4" rx="11.5" ry="11.7" fill="#9900FF" stroke="#000" stroke-width="5"/>
<ellipse cx="1037.0" cy="1105.8" rx="10.6" ry="12.1" fill="none" stroke="#000" stroke-width="5"/>
<ellipse cx="1084.1" cy="1150.4" rx="11.5" ry="11.7" fill="#9900FF" stroke="#000" stroke-width="5"/>
<ellipse cx="1084.9" cy="1184.7" rx="10.6" ry="12.1" fill="none" stroke="#000" stroke-width="5"/>
<ellipse cx="1117.8" cy="1068.5" rx="10.6" ry="12.1" fill="none" stroke="#000" stroke-width="5"/>
<ellipse cx="1143.0" cy="1224.3" rx="11.5" ry="11.7" fill="#9900FF" stroke="#000" stroke-width="5"/>
<ellipse cx="1143.4" cy="1258.6" rx="10.6" ry="12.1" fill="none" stroke="#000" stroke-width="5"/>
<ellipse cx="1165.2" cy="1287.9" rx="11.5" ry="11.7" fill="#00FF00" stroke="#000" stroke-width="5"/>
<ellipse cx="1520.1" cy="1268.6" rx="10.6" ry="12.1" fill="none" stroke="#000" stroke-width="5"/>
<ellipse cx="1549.9" cy="1327.5" rx="10.6" ry="12.1" fill="none" stroke="#000" stroke-width="5"/>
<ellipse cx="1643.3" cy="1297.5" rx="10.6" ry="12.1" fill="none" stroke="#000" stroke-width="5"/>
<ellipse cx="1681.8" cy="1296.8" rx="10.6" ry="12.1" fill="none" stroke="#000" stroke-width="5"/>
<ellipse cx="1722.0" cy="1305.5" rx="10.6" ry="12.1" fill="none" stroke="#000" stroke-width="5"/>
<ellipse cx="1746.0" cy="489.0" rx="11.5" ry="11.7" fill="#9900FF" stroke="#000" stroke-width="5"/>
<ellipse cx="1746.8" cy="523.3" rx="10.6" ry="12.1" fill="none" stroke="#000" stroke-width="5"/>
<ellipse cx="1760.2" cy="1148.6" rx="10.6" ry="12.1" fill="none" stroke="#000" stroke-width="5"/>
<ellipse cx="1795.9" cy="241.1" rx="10.6" ry="12.1" fill="none" stroke="#000" stroke-width="5"/>
<ellipse cx="1809.8" cy="308.2" rx="11.5" ry="11.7" fill="#9900FF" stroke="#000" stroke-width="5"/>
<ellipse cx="1808.8" cy="359.5" rx="10.6" ry="12.1" fill="none" stroke="#000" stroke-width="5"/>
<ellipse cx="1833.0" cy="365.8" rx="11.5" ry="11.7" fill="#9900FF" stroke="#000" stroke-width="5"/>
<ellipse cx="1829.9" cy="399.7" rx="10.6" ry="12.1" fill="none" stroke="#000" stroke-width="5"/>
<ellipse cx="1808.8" cy="777.2" rx="11.5" ry="11.7" fill="#FF8000" stroke="#000" stroke-width="5"/>
<ellipse cx="1858.1" cy="1236.5" rx="11.5" ry="11.7" fill="#9900FF" stroke="#000" stroke-width="5"/>
<ellipse cx="1857.0" cy="1272.4" rx="10.6" ry="12.1" fill="none" stroke="#000" stroke-width="5"/>
<ellipse cx="1879.5" cy="833.6" rx="11.5" ry="11.7" fill="#9900FF" stroke="#000" stroke-width="5"/>
<ellipse cx="1879.1" cy="877.0" rx="11.5" ry="11.7" fill="#00FF00" stroke="#000" stroke-width="5"/>
<ellipse cx="1893.6" cy="1147.2" rx="10.6" ry="12.1" fill="none" stroke="#000" stroke-width="5"/>
<ellipse cx="1935.9" cy="856.4" rx="10.6" ry="12.1" fill="none" stroke="#000" stroke-width="5"/>
<ellipse cx="1951.0" cy="1209.4" rx="10.6" ry="12.1" fill="none" stroke="#000" stroke-width="5"/>
<ellipse cx="2003.0" cy="1233.4" rx="10.6" ry="12.1" fill="none" stroke="#000" stroke-width="5"/>
<ellipse cx="2026.5" cy="1203.5" rx="10.6" ry="12.1" fill="none" stroke="#000" stroke-width="5"/>
<ellipse cx="2041.1" cy="1248.3" rx="11.5" ry="11.7" fill="#FF8000" stroke="#000" stroke-width="5"/>
<ellipse cx="2067.1" cy="1288.3" rx="10.6" ry="12.1" fill="none" stroke="#000" stroke-width="5"/>
<ellipse cx="2093.5" cy="869.0" rx="11.5" ry="11.7" fill="#9900FF" stroke="#000" stroke-width="5"/>
<ellipse cx="2094.6" cy="903.3" rx="10.6" ry="12.1" fill="none" stroke="#000" stroke-width="5"/>
<ellipse cx="2135.5" cy="1132.3" rx="11.5" ry="11.7" fill="#00FF00" stroke="#000" stroke-width="5"/>
<ellipse cx="2133.8" cy="1176.1" rx="11.5" ry="11.7" fill="#9900FF" stroke="#000" stroke-width="5"/>
<ellipse cx="2173.8" cy="1072.3" rx="11.5" ry="11.7" fill="#9900FF" stroke="#000" stroke-width="5"/>
<ellipse cx="2174.9" cy="1106.2" rx="10.6" ry="12.1" fill="none" stroke="#000" stroke-width="5"/>
<ellipse cx="2222.1" cy="1150.8" rx="11.5" ry="11.7" fill="#9900FF" stroke="#000" stroke-width="5"/>
<ellipse cx="2223.1" cy="1185.3" rx="10.6" ry="12.1" fill="none" stroke="#000" stroke-width="5"/>
<ellipse cx="2255.1" cy="1100.6" rx="10.6" ry="12.1" fill="none" stroke="#000" stroke-width="5"/>
<ellipse cx="2280.2" cy="1224.7" rx="11.5" ry="11.7" fill="#9900FF" stroke="#000" stroke-width="5"/>
<ellipse cx="2280.8" cy="1259.2" rx="10.6" ry="12.1" fill="none" stroke="#000" stroke-width="5"/>
<ellipse cx="2302.5" cy="1287.9" rx="11.5" ry="11.7" fill="#00FF00" stroke="#000" stroke-width="5"/>
<g fill="none" stroke="#000" stroke-width="5"><ellipse cx="145" cy="1694" rx="62.5" ry="42.5"/><ellipse cx="1439.5" cy="1694" rx="62" ry="42.5"/></g>
<text transform="translate(127.65 1711.30) scale(0.9117 1)" font-size="74.98">a</text>
<text transform="translate(1422.11 1716.80) scale(1.0115 1)" font-size="72.83">b</text>
</svg></body></html>
